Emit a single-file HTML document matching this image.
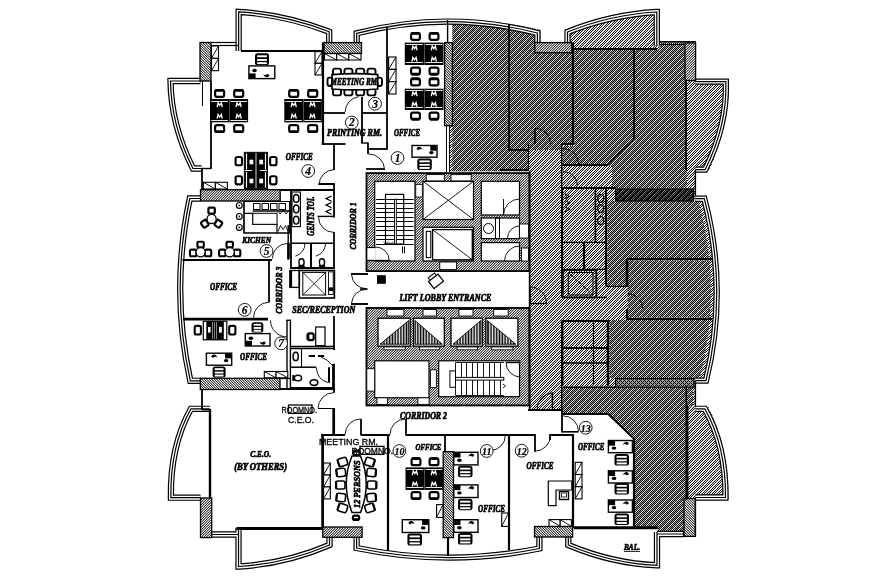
<!DOCTYPE html>
<html><head><meta charset="utf-8"><title>Floor plan</title>
<style>html,body{margin:0;padding:0;background:#fff}svg{display:block;filter:grayscale(1)}</style></head>
<body><svg width="891" height="582" viewBox="0 0 891 582" shape-rendering="auto">
<defs>
<pattern id="hA" width="6" height="6" patternUnits="userSpaceOnUse" shape-rendering="crispEdges"><rect width="6" height="6" fill="#fff"/><rect x="0" y="0" width="1" height="1" fill="#0c0c0c"/><rect x="1" y="0" width="1" height="1" fill="#fafafa"/><rect x="2" y="0" width="1" height="1" fill="#0c0c0c"/><rect x="3" y="0" width="1" height="1" fill="#a0a0a0"/><rect x="4" y="0" width="1" height="1" fill="#0c0c0c"/><rect x="5" y="0" width="1" height="1" fill="#919191"/><rect x="0" y="1" width="1" height="1" fill="#fafafa"/><rect x="1" y="1" width="1" height="1" fill="#0c0c0c"/><rect x="2" y="1" width="1" height="1" fill="#a0a0a0"/><rect x="3" y="1" width="1" height="1" fill="#0c0c0c"/><rect x="4" y="1" width="1" height="1" fill="#919191"/><rect x="5" y="1" width="1" height="1" fill="#0c0c0c"/><rect x="0" y="2" width="1" height="1" fill="#0c0c0c"/><rect x="1" y="2" width="1" height="1" fill="#a0a0a0"/><rect x="2" y="2" width="1" height="1" fill="#0c0c0c"/><rect x="3" y="2" width="1" height="1" fill="#919191"/><rect x="4" y="2" width="1" height="1" fill="#0c0c0c"/><rect x="5" y="2" width="1" height="1" fill="#fafafa"/><rect x="0" y="3" width="1" height="1" fill="#a0a0a0"/><rect x="1" y="3" width="1" height="1" fill="#0c0c0c"/><rect x="2" y="3" width="1" height="1" fill="#919191"/><rect x="3" y="3" width="1" height="1" fill="#0c0c0c"/><rect x="4" y="3" width="1" height="1" fill="#fafafa"/><rect x="5" y="3" width="1" height="1" fill="#0c0c0c"/><rect x="0" y="4" width="1" height="1" fill="#0c0c0c"/><rect x="1" y="4" width="1" height="1" fill="#919191"/><rect x="2" y="4" width="1" height="1" fill="#0c0c0c"/><rect x="3" y="4" width="1" height="1" fill="#fafafa"/><rect x="4" y="4" width="1" height="1" fill="#0c0c0c"/><rect x="5" y="4" width="1" height="1" fill="#a0a0a0"/><rect x="0" y="5" width="1" height="1" fill="#919191"/><rect x="1" y="5" width="1" height="1" fill="#0c0c0c"/><rect x="2" y="5" width="1" height="1" fill="#fafafa"/><rect x="3" y="5" width="1" height="1" fill="#0c0c0c"/><rect x="4" y="5" width="1" height="1" fill="#a0a0a0"/><rect x="5" y="5" width="1" height="1" fill="#0c0c0c"/></pattern>
<pattern id="hC" width="5" height="5" patternUnits="userSpaceOnUse" shape-rendering="crispEdges"><rect width="5" height="5" fill="#fff"/><rect x="0" y="0" width="1" height="1" fill="#0e0e0e"/><rect x="1" y="0" width="1" height="1" fill="#ececec"/><rect x="2" y="0" width="1" height="1" fill="#0e0e0e"/><rect x="3" y="0" width="1" height="1" fill="#ececec"/><rect x="4" y="0" width="1" height="1" fill="#ececec"/><rect x="0" y="1" width="1" height="1" fill="#ececec"/><rect x="1" y="1" width="1" height="1" fill="#0e0e0e"/><rect x="2" y="1" width="1" height="1" fill="#ececec"/><rect x="3" y="1" width="1" height="1" fill="#ececec"/><rect x="4" y="1" width="1" height="1" fill="#0e0e0e"/><rect x="0" y="2" width="1" height="1" fill="#0e0e0e"/><rect x="1" y="2" width="1" height="1" fill="#ececec"/><rect x="2" y="2" width="1" height="1" fill="#ececec"/><rect x="3" y="2" width="1" height="1" fill="#0e0e0e"/><rect x="4" y="2" width="1" height="1" fill="#ececec"/><rect x="0" y="3" width="1" height="1" fill="#ececec"/><rect x="1" y="3" width="1" height="1" fill="#ececec"/><rect x="2" y="3" width="1" height="1" fill="#0e0e0e"/><rect x="3" y="3" width="1" height="1" fill="#ececec"/><rect x="4" y="3" width="1" height="1" fill="#0e0e0e"/><rect x="0" y="4" width="1" height="1" fill="#ececec"/><rect x="1" y="4" width="1" height="1" fill="#0e0e0e"/><rect x="2" y="4" width="1" height="1" fill="#ececec"/><rect x="3" y="4" width="1" height="1" fill="#0e0e0e"/><rect x="4" y="4" width="1" height="1" fill="#ececec"/></pattern>
<pattern id="wf" width="5" height="5" patternUnits="userSpaceOnUse" shape-rendering="crispEdges"><rect width="5" height="5" fill="#fff"/><rect x="0" y="0" width="1" height="1" fill="#232323"/><rect x="1" y="0" width="1" height="1" fill="#ebebeb"/><rect x="2" y="0" width="1" height="1" fill="#696969"/><rect x="3" y="0" width="1" height="1" fill="#7d7d7d"/><rect x="4" y="0" width="1" height="1" fill="#ebebeb"/><rect x="0" y="1" width="1" height="1" fill="#ebebeb"/><rect x="1" y="1" width="1" height="1" fill="#696969"/><rect x="2" y="1" width="1" height="1" fill="#7d7d7d"/><rect x="3" y="1" width="1" height="1" fill="#ebebeb"/><rect x="4" y="1" width="1" height="1" fill="#232323"/><rect x="0" y="2" width="1" height="1" fill="#696969"/><rect x="1" y="2" width="1" height="1" fill="#7d7d7d"/><rect x="2" y="2" width="1" height="1" fill="#ebebeb"/><rect x="3" y="2" width="1" height="1" fill="#232323"/><rect x="4" y="2" width="1" height="1" fill="#ebebeb"/><rect x="0" y="3" width="1" height="1" fill="#7d7d7d"/><rect x="1" y="3" width="1" height="1" fill="#ebebeb"/><rect x="2" y="3" width="1" height="1" fill="#232323"/><rect x="3" y="3" width="1" height="1" fill="#ebebeb"/><rect x="4" y="3" width="1" height="1" fill="#696969"/><rect x="0" y="4" width="1" height="1" fill="#ebebeb"/><rect x="1" y="4" width="1" height="1" fill="#232323"/><rect x="2" y="4" width="1" height="1" fill="#ebebeb"/><rect x="3" y="4" width="1" height="1" fill="#696969"/><rect x="4" y="4" width="1" height="1" fill="#7d7d7d"/></pattern>
<pattern id="wb" width="5" height="5" patternUnits="userSpaceOnUse" shape-rendering="crispEdges"><rect width="5" height="5" fill="#fff"/><rect x="0" y="0" width="1" height="1" fill="#232323"/><rect x="1" y="0" width="1" height="1" fill="#ebebeb"/><rect x="2" y="0" width="1" height="1" fill="#696969"/><rect x="3" y="0" width="1" height="1" fill="#7d7d7d"/><rect x="4" y="0" width="1" height="1" fill="#ebebeb"/><rect x="0" y="1" width="1" height="1" fill="#ebebeb"/><rect x="1" y="1" width="1" height="1" fill="#232323"/><rect x="2" y="1" width="1" height="1" fill="#ebebeb"/><rect x="3" y="1" width="1" height="1" fill="#696969"/><rect x="4" y="1" width="1" height="1" fill="#7d7d7d"/><rect x="0" y="2" width="1" height="1" fill="#7d7d7d"/><rect x="1" y="2" width="1" height="1" fill="#ebebeb"/><rect x="2" y="2" width="1" height="1" fill="#232323"/><rect x="3" y="2" width="1" height="1" fill="#ebebeb"/><rect x="4" y="2" width="1" height="1" fill="#696969"/><rect x="0" y="3" width="1" height="1" fill="#696969"/><rect x="1" y="3" width="1" height="1" fill="#7d7d7d"/><rect x="2" y="3" width="1" height="1" fill="#ebebeb"/><rect x="3" y="3" width="1" height="1" fill="#232323"/><rect x="4" y="3" width="1" height="1" fill="#ebebeb"/><rect x="0" y="4" width="1" height="1" fill="#ebebeb"/><rect x="1" y="4" width="1" height="1" fill="#696969"/><rect x="2" y="4" width="1" height="1" fill="#7d7d7d"/><rect x="3" y="4" width="1" height="1" fill="#ebebeb"/><rect x="4" y="4" width="1" height="1" fill="#232323"/></pattern>
<pattern id="dk" width="6" height="6" patternUnits="userSpaceOnUse" shape-rendering="crispEdges"><rect width="6" height="6" fill="#fff"/><rect x="0" y="0" width="1" height="1" fill="#050505"/><rect x="1" y="0" width="1" height="1" fill="#050505"/><rect x="2" y="0" width="1" height="1" fill="#787878"/><rect x="3" y="0" width="1" height="1" fill="#050505"/><rect x="4" y="0" width="1" height="1" fill="#4b4b4b"/><rect x="5" y="0" width="1" height="1" fill="#050505"/><rect x="0" y="1" width="1" height="1" fill="#050505"/><rect x="1" y="1" width="1" height="1" fill="#787878"/><rect x="2" y="1" width="1" height="1" fill="#050505"/><rect x="3" y="1" width="1" height="1" fill="#4b4b4b"/><rect x="4" y="1" width="1" height="1" fill="#050505"/><rect x="5" y="1" width="1" height="1" fill="#050505"/><rect x="0" y="2" width="1" height="1" fill="#787878"/><rect x="1" y="2" width="1" height="1" fill="#050505"/><rect x="2" y="2" width="1" height="1" fill="#4b4b4b"/><rect x="3" y="2" width="1" height="1" fill="#050505"/><rect x="4" y="2" width="1" height="1" fill="#050505"/><rect x="5" y="2" width="1" height="1" fill="#050505"/><rect x="0" y="3" width="1" height="1" fill="#050505"/><rect x="1" y="3" width="1" height="1" fill="#4b4b4b"/><rect x="2" y="3" width="1" height="1" fill="#050505"/><rect x="3" y="3" width="1" height="1" fill="#050505"/><rect x="4" y="3" width="1" height="1" fill="#050505"/><rect x="5" y="3" width="1" height="1" fill="#787878"/><rect x="0" y="4" width="1" height="1" fill="#4b4b4b"/><rect x="1" y="4" width="1" height="1" fill="#050505"/><rect x="2" y="4" width="1" height="1" fill="#050505"/><rect x="3" y="4" width="1" height="1" fill="#050505"/><rect x="4" y="4" width="1" height="1" fill="#787878"/><rect x="5" y="4" width="1" height="1" fill="#050505"/><rect x="0" y="5" width="1" height="1" fill="#050505"/><rect x="1" y="5" width="1" height="1" fill="#050505"/><rect x="2" y="5" width="1" height="1" fill="#050505"/><rect x="3" y="5" width="1" height="1" fill="#787878"/><rect x="4" y="5" width="1" height="1" fill="#050505"/><rect x="5" y="5" width="1" height="1" fill="#4b4b4b"/></pattern>
<pattern id="vl" width="1.55" height="4" patternUnits="userSpaceOnUse"><rect width="0.85" height="4" fill="#000"/></pattern>
<pattern id="xk" width="4" height="4" patternUnits="userSpaceOnUse" shape-rendering="crispEdges"><rect width="4" height="4" fill="#969696"/><rect x="0" y="0" width="1" height="1" fill="#0a0a0a"/><rect x="1" y="1" width="1" height="1" fill="#0a0a0a"/><rect x="3" y="1" width="1" height="1" fill="#0a0a0a"/><rect x="2" y="2" width="1" height="1" fill="#0a0a0a"/><rect x="1" y="3" width="1" height="1" fill="#0a0a0a"/><rect x="3" y="3" width="1" height="1" fill="#0a0a0a"/></pattern>
</defs>
<rect width="891" height="582" fill="#fff"/>
<path d="M452.4,19 Q497,20 540.4,30 V42.6 H565 V30.3 Q611,12 657,9.4 H659.4 V42.6 H696 V79 H729 Q730,125 708,172 H695.4 V196 H706.4 Q730,289 708,383 H695.4 V406.5 H708 Q726,455 729,499 H695.4 V536.4 H684 V532 H658 V527.5 H633.5 V438.3 L607.7,413.6 H561.7 V409.7 H529.6 V171.2 H449.8 V125.7 H452.4 Z" fill="url(#hC)" stroke="none"/>
<clipPath id="rc"><path d="M0,0 H697.5 V198 Q723.5,289 699,381 V582 H0 Z"/></clipPath><g clip-path="url(#rc)">
<path d="M452.4,20 Q482,20.5 509,24 V150.4 H528 V171.2 H452.4 Z" fill="url(#hA)" stroke="none"/>
<path d="M509,24 Q526,26.5 540.4,30 V42.6 H534.8 V52.7 H572.3 V143.7 H561.7 V150 H509 Z" fill="url(#hA)" stroke="none"/>
<path d="M574.5,49.4 H634.2 V139.2 L607.7,165 H562.8 V146 H574.5 Z" fill="url(#hA)" stroke="none"/>
<path d="M634.2,49.4 H657 V42.6 H687 V188.6 H612 V166 H608.5 L635,140 Z" fill="url(#hA)" stroke="none"/>
<path d="M607.5,201 H730 V259 H626 V287 H607.5 Z" fill="url(#hA)" stroke="none"/>
<path d="M627.7,260.4 H730 V317.6 H627.7 Z" fill="url(#hA)" stroke="none"/>
<path d="M609.8,320 H730 V378 H609.8 Z" fill="url(#hA)" stroke="none"/>
<path d="M561.7,413.6 H607.7 L633.5,438.3 V527.5 H658 V532 H684 V498 H686.3 V409 H693 V387.5 H561.7 Z" fill="url(#hA)" stroke="none"/>
</g>
<path d="M565,42.6 V30.3 Q611,12 657,9.4 H659.4 V49.4 H572 V42.6 Z" fill="#fff" stroke="none"/>
<path d="M565,42.6 V30.3 Q611,12 657,9.4 H659.4 V49.4 H572 V42.6 Z" fill="url(#hC)" stroke="none"/>
<path d="M687,79 H729 Q730,125 708,172 H687 Z" fill="#fff" stroke="none"/>
<path d="M687,79 H729 Q730,125 708,172 H687 Z" fill="url(#hC)" stroke="none"/>
<path d="M687.6,406.5 H708 Q729,446 728.5,499 H687.6 Z" fill="#fff" stroke="none"/>
<path d="M687.6,406.5 H708 Q729,446 728.5,499 H687.6 Z" fill="url(#hC)" stroke="none"/>
<path d="M238.65,51 V11.9 Q285,14.5 329.2,31.8 V42.5" fill="none" stroke="#000" stroke-width="6.3" />
<path d="M238.65,51 V11.9 Q285,14.5 329.2,31.8 V42.5" fill="none" stroke="#fff" stroke-width="3.9" />
<path d="M238.65,51 V11.9 Q285,14.5 329.2,31.8 V42.5" fill="none" stroke="#000" stroke-width="1.2" />
<line x1="211" y1="42.5" x2="236" y2="42.5" stroke="#000" stroke-width="1.2"/>
<line x1="211" y1="45.5" x2="238" y2="45.5" stroke="#000" stroke-width="1.2"/>
<path d="M200.5,81 H170.5 Q171,125 193,168.5 H201.5" fill="none" stroke="#000" stroke-width="6.3" />
<path d="M200.5,81 H170.5 Q171,125 193,168.5 H201.5" fill="none" stroke="#fff" stroke-width="3.9" />
<path d="M200.5,81 H170.5 Q171,125 193,168.5 H201.5" fill="none" stroke="#000" stroke-width="1.2" />
<path d="M200.5,198.5 H189.8 Q170.3,290 190.3,380.8 H200.5" fill="none" stroke="#000" stroke-width="6.3" />
<path d="M200.5,198.5 H189.8 Q170.3,290 190.3,380.8 H200.5" fill="none" stroke="#fff" stroke-width="3.9" />
<path d="M200.5,198.5 H189.8 Q170.3,290 190.3,380.8 H200.5" fill="none" stroke="#000" stroke-width="1.2" />
<path d="M210,408.8 H191 Q170,446 170.9,497.7 H200.5" fill="none" stroke="#000" stroke-width="6.3" />
<path d="M210,408.8 H191 Q170,446 170.9,497.7 H200.5" fill="none" stroke="#fff" stroke-width="3.9" />
<path d="M210,408.8 H191 Q170,446 170.9,497.7 H200.5" fill="none" stroke="#000" stroke-width="1.2" />
<path d="M211.5,534.5 H238.5 M238.5,528 V566.5 Q285,564 329.5,545 V537.5" fill="none" stroke="#000" stroke-width="6.3" />
<path d="M211.5,534.5 H238.5 M238.5,528 V566.5 Q285,564 329.5,545 V537.5" fill="none" stroke="#fff" stroke-width="3.9" />
<path d="M211.5,534.5 H238.5 M238.5,528 V566.5 Q285,564 329.5,545 V537.5" fill="none" stroke="#000" stroke-width="1.2" />
<path d="M356.7,42.5 V33.3 Q447,10 537.4,33 V42.6" fill="none" stroke="#000" stroke-width="6.3" />
<path d="M356.7,42.5 V33.3 Q447,10 537.4,33 V42.6" fill="none" stroke="#fff" stroke-width="3.9" />
<path d="M356.7,42.5 V33.3 Q447,10 537.4,33 V42.6" fill="none" stroke="#000" stroke-width="1.2" />
<path d="M356.6,537 V548 Q448,567 539.4,548.5 V537" fill="none" stroke="#000" stroke-width="6.3" />
<path d="M356.6,537 V548 Q448,567 539.4,548.5 V537" fill="none" stroke="#fff" stroke-width="3.9" />
<path d="M356.6,537 V548 Q448,567 539.4,548.5 V537" fill="none" stroke="#000" stroke-width="1.2" />
<path d="M567.5,42.6 V32 Q611,14.5 656.8,12 V45.5" fill="none" stroke="#000" stroke-width="6.3" />
<path d="M567.5,42.6 V32 Q611,14.5 656.8,12 V45.5" fill="none" stroke="#fff" stroke-width="3.9" />
<path d="M567.5,42.6 V32 Q611,14.5 656.8,12 V45.5" fill="none" stroke="#000" stroke-width="1.2" />
<line x1="659.5" y1="41.8" x2="696" y2="41.8" stroke="#000" stroke-width="1.5"/>
<line x1="659.5" y1="44.5" x2="685" y2="44.5" stroke="#000" stroke-width="1.0"/>
<path d="M695.4,81.6 H725.8 Q727.5,125 705.2,169.6 H695.4" fill="none" stroke="#000" stroke-width="6.3" />
<path d="M695.4,81.6 H725.8 Q727.5,125 705.2,169.6 H695.4" fill="none" stroke="#fff" stroke-width="3.9" />
<path d="M695.4,81.6 H725.8 Q727.5,125 705.2,169.6 H695.4" fill="none" stroke="#000" stroke-width="1.2" />
<path d="M695.4,198.7 H704.3 Q728.3,289 706,380.6 H695.4" fill="none" stroke="#000" stroke-width="6.3" />
<path d="M695.4,198.7 H704.3 Q728.3,289 706,380.6 H695.4" fill="none" stroke="#fff" stroke-width="3.9" />
<path d="M695.4,198.7 H704.3 Q728.3,289 706,380.6 H695.4" fill="none" stroke="#000" stroke-width="1.2" />
<path d="M695.4,408.8 H704.8 Q726,446 725.5,497.5 H695.4" fill="none" stroke="#000" stroke-width="6.3" />
<path d="M695.4,408.8 H704.8 Q726,446 725.5,497.5 H695.4" fill="none" stroke="#fff" stroke-width="3.9" />
<path d="M695.4,408.8 H704.8 Q726,446 725.5,497.5 H695.4" fill="none" stroke="#000" stroke-width="1.2" />
<path d="M568.3,536.4 V545 Q612,563.5 657,565.3 V532 M657,534 H684" fill="none" stroke="#000" stroke-width="6.3" />
<path d="M568.3,536.4 V545 Q612,563.5 657,565.3 V532 M657,534 H684" fill="none" stroke="#fff" stroke-width="3.9" />
<path d="M568.3,536.4 V545 Q612,563.5 657,565.3 V532 M657,534 H684" fill="none" stroke="#000" stroke-width="1.2" />
<line x1="241" y1="51" x2="322.8" y2="51" stroke="#000" stroke-width="1.9"/>
<line x1="572" y1="49" x2="657" y2="49" stroke="#000" stroke-width="2.2"/>
<line x1="236.4" y1="528.4" x2="322.8" y2="528.4" stroke="#000" stroke-width="3.0"/>
<line x1="573.7" y1="527.8" x2="657.8" y2="527.8" stroke="#000" stroke-width="3.0"/>
<rect x="200" y="42.5" width="11" height="38.5" fill="#fff" stroke="#000" stroke-width="0"/>
<rect x="200" y="42.5" width="11" height="38.5" fill="url(#wb)" stroke="#000" stroke-width="1.3"/>
<rect x="324" y="42.6" width="37.5" height="10.8" fill="#fff" stroke="#000" stroke-width="0"/>
<rect x="324" y="42.6" width="37.5" height="10.8" fill="url(#wb)" stroke="#000" stroke-width="1.3"/>
<rect x="444.6" y="42.6" width="7.8" height="83.1" fill="#fff" stroke="#000" stroke-width="0"/>
<rect x="444.6" y="42.6" width="7.8" height="83.1" fill="url(#wb)" stroke="#000" stroke-width="1.3"/>
<rect x="534.8" y="42.6" width="37.0" height="10.1" fill="#fff" stroke="#000" stroke-width="0"/>
<rect x="534.8" y="42.6" width="37.0" height="10.1" fill="url(#wf)" stroke="#000" stroke-width="1.3"/>
<rect x="685" y="43" width="10.6" height="37.5" fill="#fff" stroke="#000" stroke-width="0"/>
<rect x="685" y="43" width="10.6" height="37.5" fill="url(#wf)" stroke="#000" stroke-width="1.3"/>
<rect x="200.5" y="189.7" width="79.7" height="11.3" fill="#fff" stroke="#000" stroke-width="0"/>
<rect x="200.5" y="189.7" width="79.7" height="11.3" fill="url(#wf)" stroke="#000" stroke-width="1.3"/>
<rect x="200.3" y="378.3" width="79.7" height="11.2" fill="#fff" stroke="#000" stroke-width="0"/>
<rect x="200.3" y="378.3" width="79.7" height="11.2" fill="url(#wb)" stroke="#000" stroke-width="1.3"/>
<rect x="200.5" y="498" width="11.2" height="39.6" fill="#fff" stroke="#000" stroke-width="0"/>
<rect x="200.5" y="498" width="11.2" height="39.6" fill="url(#wf)" stroke="#000" stroke-width="1.3"/>
<rect x="322.8" y="527" width="39.3" height="10.3" fill="#fff" stroke="#000" stroke-width="0"/>
<rect x="322.8" y="527" width="39.3" height="10.3" fill="url(#wf)" stroke="#000" stroke-width="1.3"/>
<rect x="443.2" y="451.7" width="10.3" height="85.9" fill="#fff" stroke="#000" stroke-width="0"/>
<rect x="443.2" y="451.7" width="10.3" height="85.9" fill="url(#wb)" stroke="#000" stroke-width="1.3"/>
<rect x="534.5" y="526.5" width="38.1" height="10.5" fill="#fff" stroke="#000" stroke-width="0"/>
<rect x="534.5" y="526.5" width="38.1" height="10.5" fill="url(#wb)" stroke="#000" stroke-width="1.3"/>
<rect x="684" y="498.5" width="11.4" height="37.9" fill="#fff" stroke="#000" stroke-width="0"/>
<rect x="684" y="498.5" width="11.4" height="37.9" fill="url(#wb)" stroke="#000" stroke-width="1.3"/>
<rect x="615.6" y="189" width="77.9" height="12" fill="#fff" stroke="#000" stroke-width="0"/>
<rect x="615.6" y="189" width="77.9" height="12" fill="url(#dk)" stroke="#000" stroke-width="1.2"/>
<rect x="615.6" y="378.5" width="78.4" height="8.7" fill="#fff" stroke="#000" stroke-width="0"/>
<rect x="615.6" y="378.5" width="78.4" height="8.7" fill="url(#xk)" stroke="#000" stroke-width="1.2"/>
<line x1="509" y1="24" x2="509" y2="150.4" stroke="#000" stroke-width="1.8"/>
<line x1="509" y1="150" x2="528" y2="150" stroke="#000" stroke-width="1.8"/>
<line x1="573" y1="42.6" x2="573" y2="144.5" stroke="#000" stroke-width="2.2"/>
<line x1="561.7" y1="144" x2="574" y2="144" stroke="#000" stroke-width="1.8"/>
<line x1="634" y1="49.4" x2="634" y2="139.2" stroke="#000" stroke-width="1.8"/>
<line x1="634.2" y1="139.2" x2="607.7" y2="165" stroke="#000" stroke-width="1.8"/>
<line x1="562.8" y1="165" x2="607.7" y2="165" stroke="#000" stroke-width="2.2"/>
<line x1="686" y1="80" x2="686" y2="170" stroke="#000" stroke-width="1.8"/>
<line x1="561.7" y1="188" x2="615.6" y2="188" stroke="#000" stroke-width="2.2"/>
<line x1="500" y1="170" x2="528" y2="170" stroke="#000" stroke-width="1.8"/>
<line x1="528.5" y1="144" x2="528.5" y2="171" stroke="#000" stroke-width="1.2"/>
<line x1="561.7" y1="144" x2="561.7" y2="297.4" stroke="#000" stroke-width="1.4"/>
<line x1="561.7" y1="321" x2="561.7" y2="409.7" stroke="#000" stroke-width="1.4"/>
<line x1="529.6" y1="171" x2="529.6" y2="409.7" stroke="#000" stroke-width="1.6"/>
<path d="M535.0,128.2 A15.5,15.5 0 0 1 550.5,143.7" fill="none" stroke="#000" stroke-width="0.9" />
<line x1="535" y1="128" x2="535" y2="144" stroke="#000" stroke-width="1.6"/>
<path d="M563.0,148.5 A15.5,15.5 0 0 1 578.5,164.0" fill="none" stroke="#000" stroke-width="0.9" />
<path d="M563.0,171.5 A14.5,14.5 0 0 1 577.5,186.0" fill="none" stroke="#000" stroke-width="0.9" />
<line x1="562.5" y1="188" x2="562.5" y2="297.4" stroke="#000" stroke-width="1.2"/>
<line x1="595.4" y1="188" x2="595.4" y2="243" stroke="#000" stroke-width="1.6"/>
<line x1="606" y1="188" x2="606" y2="286.2" stroke="#000" stroke-width="2.0"/>
<line x1="563" y1="242.4" x2="606" y2="242.4" stroke="#000" stroke-width="1.4"/>
<line x1="563" y1="269.4" x2="606" y2="269.4" stroke="#000" stroke-width="1.4"/>
<line x1="584" y1="242.4" x2="584" y2="269.4" stroke="#000" stroke-width="2.2"/>
<rect x="562.8" y="270" width="33.5" height="27.4" fill="none" stroke="#000" stroke-width="1.8"/>
<rect x="568.3" y="272.5" width="24.7" height="22.5" fill="none" stroke="#000" stroke-width="1.0"/>
<line x1="568.3" y1="272.5" x2="593" y2="295" stroke="#000" stroke-width="0.8"/>
<ellipse cx="600.7" cy="198.4" rx="3" ry="4" fill="none" stroke="#000" stroke-width="1.4"/>
<ellipse cx="600.7" cy="208.6" rx="3" ry="4" fill="none" stroke="#000" stroke-width="1.4"/>
<ellipse cx="600.7" cy="220.4" rx="3" ry="4" fill="none" stroke="#000" stroke-width="1.4"/>
<path d="M565,194 l4.5,2.4 l-4.5,2.4" fill="none" stroke="#000" stroke-width="1.1" />
<path d="M565,200.5 l4.5,2.4 l-4.5,2.4" fill="none" stroke="#000" stroke-width="1.1" />
<path d="M565,207 l4.5,2.4 l-4.5,2.4" fill="none" stroke="#000" stroke-width="1.1" />
<line x1="627" y1="259" x2="712" y2="259" stroke="#000" stroke-width="2.0"/>
<line x1="627" y1="319" x2="712" y2="319" stroke="#000" stroke-width="2.0"/>
<line x1="627" y1="259.3" x2="627" y2="287" stroke="#000" stroke-width="2.6"/>
<line x1="627" y1="308.7" x2="627" y2="318.8" stroke="#000" stroke-width="2.0"/>
<path d="M627.7,293.7 A15,15 0 0 1 642.7,308.7" fill="none" stroke="#000" stroke-width="0.9" />
<line x1="596" y1="297.4" x2="607" y2="297.4" stroke="#000" stroke-width="1.4"/>
<line x1="606" y1="286.5" x2="627" y2="286.5" stroke="#000" stroke-width="1.2"/>
<line x1="561.5" y1="321" x2="609.8" y2="321" stroke="#000" stroke-width="2.0"/>
<line x1="608" y1="321" x2="608" y2="385.7" stroke="#000" stroke-width="2.4"/>
<line x1="562.6" y1="321" x2="562.6" y2="385.7" stroke="#000" stroke-width="1.6"/>
<line x1="562.6" y1="348" x2="608" y2="348" stroke="#000" stroke-width="1.8"/>
<line x1="562.6" y1="363" x2="608" y2="363" stroke="#000" stroke-width="1.4"/>
<line x1="593.5" y1="321" x2="593.5" y2="385" stroke="#000" stroke-width="1.2"/>
<line x1="686.3" y1="385.7" x2="686.3" y2="500" stroke="#000" stroke-width="1.6"/>
<line x1="561.7" y1="414" x2="607.7" y2="414" stroke="#000" stroke-width="2.0"/>
<line x1="607.7" y1="413.6" x2="633.5" y2="438.3" stroke="#000" stroke-width="2.0"/>
<line x1="634" y1="438.3" x2="634" y2="527.5" stroke="#000" stroke-width="2.2"/>
<line x1="528" y1="410" x2="561.7" y2="410" stroke="#000" stroke-width="1.9"/>
<line x1="552.4" y1="392.3" x2="552.4" y2="408.5" stroke="#000" stroke-width="1.5"/>
<path d="M537.1,408.5 A15.3,15.3 0 0 1 552.4,393.2" fill="none" stroke="#000" stroke-width="0.9" />
<line x1="562.6" y1="387.3" x2="615" y2="387.3" stroke="#000" stroke-width="1.6"/>
<line x1="695.4" y1="170" x2="695.4" y2="196" stroke="#000" stroke-width="1.4"/>
<line x1="695.4" y1="381" x2="695.4" y2="406.5" stroke="#000" stroke-width="1.4"/>
<line x1="695.4" y1="498" x2="695.4" y2="536.4" stroke="#000" stroke-width="1.4"/>
<line x1="687.6" y1="406" x2="687.6" y2="498" stroke="#000" stroke-width="1.6"/>
<line x1="683.5" y1="532" x2="683.5" y2="536.4" stroke="#000" stroke-width="1.2"/>
<rect x="366.5" y="173.1" width="162.8" height="98.0" fill="#fff" stroke="#000" stroke-width="0"/>
<rect x="366.5" y="173.1" width="162.8" height="98.0" fill="url(#wf)" stroke="#000" stroke-width="1.8"/>
<rect x="374.7" y="181.3" width="40.3" height="79.7" fill="#fff" stroke="#000" stroke-width="1.2"/>
<rect x="423" y="181.3" width="50.5" height="38.2" fill="#fff" stroke="#000" stroke-width="1.2"/>
<rect x="423" y="227.3" width="50.5" height="33.7" fill="#fff" stroke="#000" stroke-width="1.2"/>
<rect x="481.3" y="181.3" width="38.2" height="33.7" fill="#fff" stroke="#000" stroke-width="1.2"/>
<rect x="481.3" y="218" width="38.2" height="20.6" fill="#fff" stroke="#000" stroke-width="1.2"/>
<rect x="481.3" y="242.6" width="38.2" height="18.4" fill="#fff" stroke="#000" stroke-width="1.2"/>
<rect x="426.3" y="174.6" width="18.0" height="6.3" fill="#fff" stroke="#000" stroke-width="0.9"/>
<rect x="451" y="174.6" width="20.2" height="6.3" fill="#fff" stroke="#000" stroke-width="0.9"/>
<rect x="439.8" y="262" width="16.8" height="7.4" fill="#fff" stroke="#000" stroke-width="0.9"/>
<rect x="415.8" y="184.5" width="6.5" height="12.5" fill="#fff" stroke="#000" stroke-width="0.8"/>
<line x1="423" y1="181.3" x2="473.5" y2="219.5" stroke="#000" stroke-width="0.9"/>
<line x1="423" y1="219.5" x2="473.5" y2="181.3" stroke="#000" stroke-width="0.9"/>
<rect x="432.6" y="229.6" width="39.7" height="30.2" fill="none" stroke="#000" stroke-width="1.3"/>
<line x1="432.6" y1="229.6" x2="472.3" y2="259.8" stroke="#000" stroke-width="0.9"/>
<rect x="426.3" y="231.4" width="4.5" height="26.2" fill="none" stroke="#000" stroke-width="1.1"/>
<line x1="376.2" y1="199.5" x2="413.5" y2="199.5" stroke="#000" stroke-width="1.0"/>
<line x1="376.2" y1="203.5" x2="413.5" y2="203.5" stroke="#000" stroke-width="1.0"/>
<line x1="376.2" y1="208.5" x2="413.5" y2="208.5" stroke="#000" stroke-width="1.0"/>
<line x1="376.2" y1="212.5" x2="413.5" y2="212.5" stroke="#000" stroke-width="1.0"/>
<line x1="376.2" y1="217.5" x2="413.5" y2="217.5" stroke="#000" stroke-width="1.0"/>
<line x1="376.2" y1="221.5" x2="413.5" y2="221.5" stroke="#000" stroke-width="1.0"/>
<line x1="376.2" y1="226.5" x2="413.5" y2="226.5" stroke="#000" stroke-width="1.0"/>
<line x1="376.2" y1="230.5" x2="413.5" y2="230.5" stroke="#000" stroke-width="1.0"/>
<line x1="376.2" y1="235.5" x2="413.5" y2="235.5" stroke="#000" stroke-width="1.0"/>
<line x1="376.2" y1="239.5" x2="413.5" y2="239.5" stroke="#000" stroke-width="1.0"/>
<line x1="376.2" y1="244.5" x2="413.5" y2="244.5" stroke="#000" stroke-width="1.0"/>
<rect x="385.5" y="194.4" width="18.2" height="49.6" fill="none" stroke="#000" stroke-width="1.2"/>
<rect x="394.5" y="199.2" width="1.8" height="44.8" fill="#fff" stroke="#000" stroke-width="0.9"/>
<line x1="402.5" y1="246.4" x2="402.5" y2="253.3" stroke="#000" stroke-width="1.0"/>
<line x1="404.5" y1="246.4" x2="404.5" y2="253.3" stroke="#000" stroke-width="1.0"/>
<path d="M383.5,242 l2.2,2 l2.2,-2 M388.5,242 l2.2,2 l2.2,-2" fill="none" stroke="#000" stroke-width="0.8" />
<rect x="367.5" y="247" width="8.1" height="13.3" fill="#fff" stroke="#000" stroke-width="0.0"/>
<line x1="367" y1="247.5" x2="375.6" y2="247.5" stroke="#000" stroke-width="1.2"/>
<path d="M375.6,247.0 A13.6,13.6 0 0 1 389.2,260.6" fill="none" stroke="#000" stroke-width="0.9" />
<line x1="367" y1="260.5" x2="389.5" y2="260.5" stroke="#000" stroke-width="1.3"/>
<path d="M503.5,215.0 A16,16 0 0 1 519.5,199.0" fill="none" stroke="#000" stroke-width="0.9" />
<line x1="503.5" y1="199" x2="503.5" y2="215" stroke="#000" stroke-width="0.9"/>
<circle cx="488.5" cy="228.5" r="5" fill="#fff" stroke="#000" stroke-width="1.0"/>
<rect x="495.5" y="218" width="4.0" height="20.6" fill="none" stroke="#000" stroke-width="1.0"/>
<path d="M507.5,238.0 A12,12 0 0 1 519.5,226.0" fill="none" stroke="#000" stroke-width="0.9" />
<path d="M504.5,261.0 A15,15 0 0 1 519.5,246.0" fill="none" stroke="#000" stroke-width="0.9" />
<rect x="519.5" y="224" width="9.0" height="14" fill="#fff" stroke="#000" stroke-width="0.9"/>
<rect x="521.5" y="248" width="7.0" height="13" fill="#fff" stroke="#000" stroke-width="0.9"/>
<rect x="377" y="275.2" width="8.8" height="8.6" fill="#000" stroke="#000" stroke-width="0"/>
<rect x="0" y="0" width="12" height="9" transform="translate(428.5,281.5) rotate(-38)" fill="#fff" stroke="#000" stroke-width="1.2"/>
<rect x="2" y="-3" width="8" height="3" transform="translate(428.5,281.5) rotate(-38)" fill="#fff" stroke="#000" stroke-width="1.0"/>
<text x="399.4" y="301" textLength="92.0" lengthAdjust="spacingAndGlyphs" font-family="Liberation Serif, serif" font-weight="bold" font-style="italic" font-size="9.8" stroke="#000" stroke-width="0.7" stroke-linejoin="round">LIFT LOBBY ENTRANCE</text>
<path d="M530.0,287.0 A16.5,16.5 0 0 1 546.5,303.5" fill="none" stroke="#000" stroke-width="0.9" />
<line x1="530" y1="286.5" x2="530" y2="304" stroke="#000" stroke-width="1.4"/>
<line x1="530" y1="303.5" x2="546.5" y2="303.5" stroke="#000" stroke-width="1.3"/>
<path d="M351.5,274.5 Q353,287.5 367,289 M351.5,303.4 Q353,290.5 367,289" fill="none" stroke="#000" stroke-width="0.9" />
<line x1="351" y1="274" x2="368" y2="274" stroke="#000" stroke-width="1.9"/>
<line x1="351" y1="304" x2="368" y2="304" stroke="#000" stroke-width="1.9"/>
<line x1="360" y1="289" x2="367.5" y2="289" stroke="#000" stroke-width="1.6"/>
<rect x="366.5" y="308" width="162.8" height="97.4" fill="#fff" stroke="#000" stroke-width="0"/>
<rect x="366.5" y="308" width="162.8" height="97.4" fill="url(#wf)" stroke="#000" stroke-width="1.9"/>
<rect x="387" y="309.5" width="16.9" height="6.5" fill="#fff" stroke="#000" stroke-width="0.9"/>
<rect x="423" y="309.5" width="13.4" height="6.5" fill="#fff" stroke="#000" stroke-width="0.9"/>
<rect x="458.9" y="309.5" width="14.1" height="6.5" fill="#fff" stroke="#000" stroke-width="0.9"/>
<rect x="493.7" y="309.5" width="14.5" height="6.5" fill="#fff" stroke="#000" stroke-width="0.9"/>
<rect x="378" y="318.2" width="32.2" height="28.0" fill="#fff" stroke="#000" stroke-width="1.3"/>
<path d="M380,344.2 L408.7,320.5 V344.2 Z" fill="url(#vl)" stroke="#000" stroke-width="0.9"/>
<rect x="384" y="347" width="21.2" height="2.8" fill="#fff" stroke="#000" stroke-width="0.8"/>
<rect x="413.5" y="318.2" width="30.8" height="28.0" fill="#fff" stroke="#000" stroke-width="1.3"/>
<path d="M415.0,320.5 V344.2 H442.3 Z" fill="url(#vl)" stroke="#000" stroke-width="0.9"/>
<rect x="419.5" y="347" width="19.8" height="2.8" fill="#fff" stroke="#000" stroke-width="0.8"/>
<rect x="451" y="318.2" width="31.4" height="28.0" fill="#fff" stroke="#000" stroke-width="1.3"/>
<path d="M453,344.2 L480.9,320.5 V344.2 Z" fill="url(#vl)" stroke="#000" stroke-width="0.9"/>
<rect x="457" y="347" width="20.4" height="2.8" fill="#fff" stroke="#000" stroke-width="0.8"/>
<rect x="485.8" y="318.2" width="32.1" height="28.0" fill="#fff" stroke="#000" stroke-width="1.3"/>
<path d="M487.3,320.5 V344.2 H515.9 Z" fill="url(#vl)" stroke="#000" stroke-width="0.9"/>
<rect x="491.8" y="347" width="21.1" height="2.8" fill="#fff" stroke="#000" stroke-width="0.8"/>
<rect x="374.7" y="360.8" width="54.3" height="37.0" fill="#fff" stroke="#000" stroke-width="1.2"/>
<rect x="366.8" y="368.7" width="7.9" height="22.4" fill="#fff" stroke="#000" stroke-width="0.9"/>
<rect x="430.4" y="369.8" width="6.0" height="17.9" fill="#fff" stroke="#000" stroke-width="0.9"/>
<rect x="438.7" y="360.8" width="80.8" height="35.9" fill="#fff" stroke="#000" stroke-width="1.2"/>
<rect x="377" y="397.8" width="10.4" height="6.6" fill="#fff" stroke="#000" stroke-width="0.9"/>
<rect x="417.9" y="397.8" width="11.2" height="6.6" fill="#fff" stroke="#000" stroke-width="0.9"/>
<line x1="455.5" y1="362.5" x2="455.5" y2="395" stroke="#000" stroke-width="0.9"/>
<line x1="461.5" y1="362.5" x2="461.5" y2="395" stroke="#000" stroke-width="0.9"/>
<line x1="466.5" y1="362.5" x2="466.5" y2="395" stroke="#000" stroke-width="0.9"/>
<line x1="472.5" y1="362.5" x2="472.5" y2="395" stroke="#000" stroke-width="0.9"/>
<line x1="477.5" y1="362.5" x2="477.5" y2="395" stroke="#000" stroke-width="0.9"/>
<line x1="483.5" y1="362.5" x2="483.5" y2="395" stroke="#000" stroke-width="0.9"/>
<line x1="489.5" y1="362.5" x2="489.5" y2="395" stroke="#000" stroke-width="0.9"/>
<line x1="494.5" y1="362.5" x2="494.5" y2="395" stroke="#000" stroke-width="0.9"/>
<line x1="500.5" y1="362.5" x2="500.5" y2="395" stroke="#000" stroke-width="0.9"/>
<line x1="455.5" y1="362.5" x2="503.8" y2="362.5" stroke="#000" stroke-width="0.9"/>
<line x1="455.5" y1="395.5" x2="503.8" y2="395.5" stroke="#000" stroke-width="0.9"/>
<rect x="449.9" y="370.9" width="5.6" height="16.4" fill="#fff" stroke="#000" stroke-width="1.0"/>
<rect x="455.5" y="377.4" width="48.3" height="2.7" fill="#fff" stroke="#000" stroke-width="1.0"/>
<path d="M503,384 l2.5,2 l-2.5,2" fill="none" stroke="#000" stroke-width="0.9" />
<path d="M520.5,377.0 A14.5,14.5 0 0 1 506.0,362.5" fill="none" stroke="#000" stroke-width="0.9" />
<line x1="506" y1="362.5" x2="520.5" y2="362.5" stroke="#000" stroke-width="1.4"/>
<line x1="211" y1="81" x2="211" y2="168.5" stroke="#000" stroke-width="1.8"/>
<line x1="201.5" y1="168.5" x2="211.5" y2="168.5" stroke="#000" stroke-width="1.4"/>
<line x1="202" y1="168.5" x2="202" y2="189.7" stroke="#000" stroke-width="1.8"/>
<line x1="202.5" y1="81" x2="202.5" y2="106" stroke="#000" stroke-width="1.0"/>
<rect x="211.5" y="46.0" width="7.0" height="12.35" fill="#fff" stroke="#000" stroke-width="1.1"/>
<line x1="211.5" y1="58.35" x2="218.5" y2="46.0" stroke="#000" stroke-width="0.9"/>
<rect x="211.5" y="58.35" width="7.0" height="12.35" fill="#fff" stroke="#000" stroke-width="1.1"/>
<line x1="211.5" y1="70.7" x2="218.5" y2="58.35" stroke="#000" stroke-width="0.9"/>
<rect x="315" y="51.6" width="7" height="11.7" fill="#fff" stroke="#000" stroke-width="1.1"/>
<line x1="315" y1="63.3" x2="322" y2="51.6" stroke="#000" stroke-width="0.9"/>
<rect x="315" y="63.3" width="7" height="11.7" fill="#fff" stroke="#000" stroke-width="1.1"/>
<line x1="315" y1="75.0" x2="322" y2="63.3" stroke="#000" stroke-width="0.9"/>
<rect x="203.4" y="182.3" width="12.0" height="6.7" fill="#fff" stroke="#000" stroke-width="1.1"/>
<line x1="203.4" y1="182.3" x2="215.4" y2="189" stroke="#000" stroke-width="0.9"/>
<rect x="215.4" y="182.3" width="12.0" height="6.7" fill="#fff" stroke="#000" stroke-width="1.1"/>
<line x1="215.4" y1="182.3" x2="227.4" y2="189" stroke="#000" stroke-width="0.9"/>
<line x1="323" y1="42.5" x2="323" y2="144.5" stroke="#000" stroke-width="2.2"/>
<line x1="280" y1="190" x2="335" y2="190" stroke="#000" stroke-width="1.8"/>
<rect x="324.5" y="53.6" width="12.17" height="6.4" fill="#fff" stroke="#000" stroke-width="1.1"/>
<line x1="324.5" y1="53.6" x2="336.6666666666667" y2="60" stroke="#000" stroke-width="0.9"/>
<rect x="336.6666666666667" y="53.6" width="12.17" height="6.4" fill="#fff" stroke="#000" stroke-width="1.1"/>
<line x1="336.6666666666667" y1="53.6" x2="348.8333333333333" y2="60" stroke="#000" stroke-width="0.9"/>
<rect x="348.8333333333333" y="53.6" width="12.17" height="6.4" fill="#fff" stroke="#000" stroke-width="1.1"/>
<line x1="348.8333333333333" y1="53.6" x2="361.0" y2="60" stroke="#000" stroke-width="0.9"/>
<line x1="322.8" y1="113" x2="345" y2="113" stroke="#000" stroke-width="1.8"/>
<line x1="361.5" y1="113" x2="387" y2="113" stroke="#000" stroke-width="1.8"/>
<line x1="362" y1="97" x2="362" y2="143" stroke="#000" stroke-width="1.8"/>
<path d="M345.2,112.0 A15.3,15.3 0 0 1 358.4,96.8" fill="none" stroke="#000" stroke-width="0.9" />
<line x1="387" y1="27" x2="387" y2="149.5" stroke="#000" stroke-width="1.8"/>
<rect x="388.6" y="57.0" width="7.4" height="12.33" fill="#fff" stroke="#000" stroke-width="1.1"/>
<line x1="388.6" y1="69.33333333333333" x2="396" y2="57.0" stroke="#000" stroke-width="0.9"/>
<rect x="388.6" y="69.33333333333333" width="7.4" height="12.33" fill="#fff" stroke="#000" stroke-width="1.1"/>
<line x1="388.6" y1="81.66666666666667" x2="396" y2="69.33333333333333" stroke="#000" stroke-width="0.9"/>
<rect x="388.6" y="81.66666666666667" width="7.4" height="12.33" fill="#fff" stroke="#000" stroke-width="1.1"/>
<line x1="388.6" y1="94.0" x2="396" y2="81.66666666666667" stroke="#000" stroke-width="0.9"/>
<line x1="321.7" y1="144" x2="345.5" y2="144" stroke="#000" stroke-width="1.8"/>
<line x1="361" y1="143" x2="368.5" y2="143" stroke="#000" stroke-width="1.4"/>
<line x1="368" y1="143" x2="368" y2="154" stroke="#000" stroke-width="1.8"/>
<line x1="368.3" y1="149" x2="387.5" y2="149" stroke="#000" stroke-width="1.8"/>
<line x1="334" y1="144" x2="334" y2="170" stroke="#000" stroke-width="1.8"/>
<path d="M319.0,185.0 A15.3,15.3 0 0 1 334.3,169.7" fill="none" stroke="#000" stroke-width="0.9" />
<line x1="318.5" y1="184" x2="335" y2="184" stroke="#000" stroke-width="2.0"/>
<line x1="334" y1="184" x2="334" y2="190" stroke="#000" stroke-width="1.8"/>
<line x1="447.6" y1="20" x2="447.6" y2="42.6" stroke="#000" stroke-width="1.4"/>
<line x1="446.5" y1="125.7" x2="446.5" y2="172" stroke="#000" stroke-width="1.0"/>
<line x1="449.5" y1="125.7" x2="449.5" y2="172" stroke="#000" stroke-width="1.0"/>
<path d="M368.6,154.0 A16,16 0 0 1 384.6,170.0" fill="none" stroke="#000" stroke-width="0.9" />
<line x1="366" y1="169" x2="384.6" y2="169" stroke="#000" stroke-width="1.8"/>
<line x1="291" y1="190" x2="291" y2="269" stroke="#000" stroke-width="1.8"/>
<line x1="334" y1="190" x2="334" y2="217.5" stroke="#000" stroke-width="1.8"/>
<line x1="334" y1="232" x2="334" y2="269" stroke="#000" stroke-width="1.8"/>
<path d="M333.6,232.3 A15,15 0 0 1 318.6,217.3" fill="none" stroke="#000" stroke-width="0.9" />
<line x1="317.5" y1="216.4" x2="334.5" y2="216.4" stroke="#000" stroke-width="1.4"/>
<rect x="292" y="192" width="8.4" height="34.6" fill="#fff" stroke="#000" stroke-width="1.1"/>
<ellipse cx="296.2" cy="198.4" rx="2.7" ry="3.9" fill="#fff" stroke="#000" stroke-width="1.5"/>
<ellipse cx="296.2" cy="209" rx="2.7" ry="3.9" fill="#fff" stroke="#000" stroke-width="1.5"/>
<ellipse cx="296.2" cy="220.2" rx="2.7" ry="3.9" fill="#fff" stroke="#000" stroke-width="1.5"/>
<path d="M331.5,196 l-5.5,2.6 l5.5,2.6" fill="none" stroke="#000" stroke-width="1.2" />
<path d="M331.5,202.5 l-5.5,2.6 l5.5,2.6" fill="none" stroke="#000" stroke-width="1.2" />
<path d="M331.5,209 l-5.5,2.6 l5.5,2.6" fill="none" stroke="#000" stroke-width="1.2" />
<line x1="291" y1="243.2" x2="333" y2="243.2" stroke="#000" stroke-width="1.4"/>
<line x1="311" y1="243" x2="311" y2="268.5" stroke="#000" stroke-width="2.0"/>
<line x1="290" y1="268" x2="335" y2="268" stroke="#000" stroke-width="1.8"/>
<path d="M305.0,243.5 A13,13 0 0 1 295.4,256.1" fill="none" stroke="#000" stroke-width="0.9" />
<path d="M325.5,243.5 A13,13 0 0 1 315.9,256.1" fill="none" stroke="#000" stroke-width="0.9" />
<ellipse cx="301.5" cy="262.3" rx="2.6" ry="3.5" fill="#fff" stroke="#000" stroke-width="1.4"/>
<rect x="298.3" y="265.2" width="6.4" height="2.3" fill="#000" stroke="#000" stroke-width="0"/>
<ellipse cx="322" cy="262.3" rx="2.6" ry="3.5" fill="#fff" stroke="#000" stroke-width="1.4"/>
<rect x="318.8" y="265.2" width="6.4" height="2.3" fill="#000" stroke="#000" stroke-width="0"/>
<rect x="287.2" y="243" width="2.6" height="15.8" fill="#000" stroke="#000" stroke-width="0"/>
<line x1="288.2" y1="225" x2="288.2" y2="260" stroke="#000" stroke-width="1.4"/>
<rect x="289.8" y="270.5" width="9.5" height="16.9" fill="none" stroke="#000" stroke-width="1.3"/>
<line x1="291" y1="270.5" x2="291" y2="287.4" stroke="#000" stroke-width="2.2"/>
<rect x="299.3" y="270.5" width="35.1" height="27.5" fill="none" stroke="#000" stroke-width="1.6"/>
<rect x="302.8" y="272.4" width="22.8" height="22.6" fill="#fff" stroke="#000" stroke-width="1.0"/>
<line x1="302.8" y1="272.4" x2="325.6" y2="295" stroke="#000" stroke-width="0.8"/>
<line x1="302.8" y1="295" x2="325.6" y2="272.4" stroke="#000" stroke-width="0.8"/>
<rect x="328.5" y="271.9" width="4.7" height="22.6" fill="none" stroke="#000" stroke-width="0.9"/>
<rect x="328.8" y="287.4" width="4.2" height="3.6" fill="#000" stroke="#000" stroke-width="0"/>
<path d="M244,201.5 H289.7 V233 H277 V224.3 H252.8 V213.3 H244 Z  M244,213.3 V233 H277" fill="none" stroke="#000" stroke-width="1.2" />
<path d="M244,201.5 V233 H289.7 V201.5" fill="none" stroke="#000" stroke-width="1.2" />
<rect x="252.8" y="213.3" width="24.2" height="11.0" fill="#fff" stroke="#000" stroke-width="1.0"/>
<rect x="253.5" y="203.5" width="6.5" height="6.0" fill="#fff" stroke="#000" stroke-width="1.0"/>
<rect x="262" y="203.5" width="6.5" height="6.0" fill="#fff" stroke="#000" stroke-width="1.0"/>
<rect x="270.5" y="203.5" width="6.5" height="6.0" fill="#fff" stroke="#000" stroke-width="1.0"/>
<rect x="279" y="203.5" width="6.5" height="6.0" fill="#fff" stroke="#000" stroke-width="1.0"/>
<line x1="252.8" y1="211" x2="289.7" y2="211" stroke="#000" stroke-width="1.6"/>
<path d="M277,210 l3,4 l3,-4 M283,210 l3,4 l3,-4" fill="none" stroke="#000" stroke-width="0.9" />
<path d="M278,231.5 l2.5,-6 l2.5,4 l2.5,-4 l2.5,6" fill="none" stroke="#000" stroke-width="0.9" />
<circle cx="239.3" cy="205.4" r="2.9" fill="#fff" stroke="#000" stroke-width="1.2"/><circle cx="239.3" cy="205.4" r="0.9" fill="#000"/>
<circle cx="239.3" cy="216.4" r="2.9" fill="#fff" stroke="#000" stroke-width="1.2"/><circle cx="239.3" cy="216.4" r="0.9" fill="#000"/>
<circle cx="239.3" cy="227.4" r="2.9" fill="#fff" stroke="#000" stroke-width="1.2"/><circle cx="239.3" cy="227.4" r="0.9" fill="#000"/>
<line x1="182.5" y1="260" x2="272" y2="260" stroke="#000" stroke-width="2.0"/>
<line x1="269" y1="259.6" x2="269" y2="302.6" stroke="#000" stroke-width="1.8"/>
<path d="M253.5,317.6 A15.3,15.3 0 0 1 268.8,302.3" fill="none" stroke="#000" stroke-width="0.9" />
<line x1="183" y1="319.1" x2="268" y2="319.1" stroke="#000" stroke-width="2.9"/>
<path d="M272.4,258.5 A15,15 0 0 1 287.4,243.5" fill="none" stroke="#000" stroke-width="0.9" />
<line x1="287" y1="320" x2="287" y2="388" stroke="#000" stroke-width="1.4"/>
<line x1="290.4" y1="320" x2="290.4" y2="388" stroke="#000" stroke-width="1.4"/>
<line x1="286.3" y1="320.3" x2="291.1" y2="320.3" stroke="#000" stroke-width="1.4"/>
<line x1="334" y1="316" x2="334" y2="350" stroke="#000" stroke-width="1.8"/>
<line x1="290.4" y1="346.5" x2="335" y2="346.5" stroke="#000" stroke-width="1.3"/>
<line x1="290.4" y1="348.5" x2="335" y2="348.5" stroke="#000" stroke-width="1.3"/>
<rect x="315.7" y="327" width="9.3" height="18.6" fill="#fff" stroke="#000" stroke-width="1.2"/>
<rect x="307.7" y="333.3" width="6.0" height="6.8" rx="1.8" fill="#fff" stroke="#000" stroke-width="2.2"/>
<rect x="306.6" y="333.4" width="2.8" height="6.6" rx="0.8" fill="#000"/>
<path d="M287.0,336.9 A16.5,16.5 0 0 1 270.5,320.4" fill="none" stroke="#000" stroke-width="0.9" />
<line x1="291" y1="388" x2="334.5" y2="388" stroke="#000" stroke-width="2.0"/>
<line x1="333" y1="364" x2="333" y2="388" stroke="#000" stroke-width="1.8"/>
<line x1="301.5" y1="348.6" x2="301.5" y2="367" stroke="#000" stroke-width="1.1"/>
<line x1="291" y1="367.2" x2="316.4" y2="367.2" stroke="#000" stroke-width="1.5"/>
<ellipse cx="295.7" cy="356.4" rx="2.6" ry="4.2" fill="#fff" stroke="#000" stroke-width="1.5"/>
<ellipse cx="298" cy="378" rx="3.6" ry="2.8" fill="#fff" stroke="#000" stroke-width="1.4"/>
<rect x="292.3" y="375" width="2.0" height="6" fill="#000" stroke="#000" stroke-width="0"/>
<ellipse cx="314" cy="382.6" rx="3.8" ry="2.8" fill="#fff" stroke="#000" stroke-width="1.6"/>
<line x1="308.7" y1="356" x2="315" y2="356" stroke="#000" stroke-width="2.0"/>
<line x1="318" y1="356" x2="324.2" y2="356" stroke="#000" stroke-width="2.0"/>
<path d="M321,357.2 q7,2 11,8" fill="none" stroke="#000" stroke-width="0.9" />
<path d="M316.4,368 q1,12 11.6,14.5" fill="none" stroke="#000" stroke-width="0.9" />
<line x1="329" y1="367.3" x2="329" y2="382.8" stroke="#000" stroke-width="2.0"/>
<rect x="264.3" y="371.5" width="11.75" height="6.3" fill="#fff" stroke="#000" stroke-width="1.1"/>
<line x1="264.3" y1="371.5" x2="276.05" y2="377.8" stroke="#000" stroke-width="0.9"/>
<rect x="276.05" y="371.5" width="11.75" height="6.3" fill="#fff" stroke="#000" stroke-width="1.1"/>
<line x1="276.05" y1="371.5" x2="287.8" y2="377.8" stroke="#000" stroke-width="0.9"/>
<line x1="280" y1="378.5" x2="290" y2="378.5" stroke="#000" stroke-width="1.2"/>
<line x1="280" y1="389" x2="335" y2="389" stroke="#000" stroke-width="1.8"/>
<line x1="202" y1="389.5" x2="202" y2="409.7" stroke="#000" stroke-width="1.8"/>
<line x1="202" y1="409.7" x2="211" y2="409.7" stroke="#000" stroke-width="1.4"/>
<line x1="210" y1="409.7" x2="210" y2="498" stroke="#000" stroke-width="2.4"/>
<line x1="334" y1="363.7" x2="334" y2="392.8" stroke="#000" stroke-width="1.8"/>
<path d="M318.0,408.6 A16,16 0 0 1 334.0,392.6" fill="none" stroke="#000" stroke-width="0.9" />
<line x1="333.7" y1="408.6" x2="333.7" y2="434.5" stroke="#000" stroke-width="2.7"/>
<line x1="318" y1="408.5" x2="335" y2="408.5" stroke="#000" stroke-width="1.0"/>
<line x1="321.3" y1="435" x2="345" y2="435" stroke="#000" stroke-width="2.0"/>
<line x1="360.6" y1="435" x2="389.8" y2="435" stroke="#000" stroke-width="2.0"/>
<line x1="405.5" y1="435" x2="505" y2="435" stroke="#000" stroke-width="2.0"/>
<line x1="361" y1="419" x2="361" y2="435" stroke="#000" stroke-width="1.8"/>
<path d="M345.1,434.5 A15.5,15.5 0 0 1 360.6,419.0" fill="none" stroke="#000" stroke-width="0.9" />
<line x1="406" y1="419" x2="406" y2="435" stroke="#000" stroke-width="1.8"/>
<path d="M390.0,434.5 A15.5,15.5 0 0 1 405.5,419.0" fill="none" stroke="#000" stroke-width="0.9" />
<line x1="322.6" y1="434" x2="322.6" y2="528" stroke="#000" stroke-width="2.7"/>
<line x1="388" y1="434" x2="388" y2="551" stroke="#000" stroke-width="2.2"/>
<line x1="445" y1="434" x2="445" y2="452" stroke="#000" stroke-width="1.8"/>
<line x1="448" y1="537.6" x2="448" y2="556" stroke="#000" stroke-width="2.2"/>
<line x1="509" y1="434" x2="509" y2="550" stroke="#000" stroke-width="2.2"/>
<rect x="323.6" y="463.0" width="6.7" height="11.97" fill="#fff" stroke="#000" stroke-width="1.1"/>
<line x1="323.6" y1="474.96666666666664" x2="330.3" y2="463.0" stroke="#000" stroke-width="0.9"/>
<rect x="323.6" y="474.96666666666664" width="6.7" height="11.97" fill="#fff" stroke="#000" stroke-width="1.1"/>
<line x1="323.6" y1="486.93333333333334" x2="330.3" y2="474.96666666666664" stroke="#000" stroke-width="0.9"/>
<rect x="323.6" y="486.93333333333334" width="6.7" height="11.97" fill="#fff" stroke="#000" stroke-width="1.1"/>
<line x1="323.6" y1="498.9" x2="330.3" y2="486.93333333333334" stroke="#000" stroke-width="0.9"/>
<rect x="436.6" y="504.6" width="6.4" height="12.8" fill="#fff" stroke="#000" stroke-width="1.1"/>
<line x1="436.6" y1="517.4" x2="443" y2="504.6" stroke="#000" stroke-width="0.9"/>
<rect x="501.7" y="513.0" width="6.8" height="13.4" fill="#fff" stroke="#000" stroke-width="1.1"/>
<line x1="501.7" y1="526.4" x2="508.5" y2="513.0" stroke="#000" stroke-width="0.9"/>
<line x1="504.5" y1="435" x2="535" y2="435" stroke="#000" stroke-width="2.0"/>
<line x1="550.5" y1="435" x2="574" y2="435" stroke="#000" stroke-width="2.0"/>
<line x1="535" y1="434" x2="535" y2="451.7" stroke="#000" stroke-width="1.8"/>
<path d="M550.5,435.5 A15.7,15.7 0 0 1 534.8,451.2" fill="none" stroke="#000" stroke-width="0.9" />
<line x1="550" y1="434" x2="550" y2="440" stroke="#000" stroke-width="1.8"/>
<path d="M505.3,435.5 A15,15 0 0 1 490.3,450.5" fill="none" stroke="#000" stroke-width="0.9" />
<line x1="573" y1="434" x2="573" y2="528" stroke="#000" stroke-width="2.2"/>
<line x1="562" y1="409" x2="562" y2="432.6" stroke="#000" stroke-width="1.8"/>
<line x1="562" y1="431.8" x2="578.5" y2="431.8" stroke="#000" stroke-width="1.6"/>
<path d="M562.8,415.8 A15.7,15.7 0 0 1 578.5,431.5" fill="none" stroke="#000" stroke-width="0.9" />
<rect x="575.2" y="462.3" width="6.8" height="12.2" fill="#fff" stroke="#000" stroke-width="1.1"/>
<line x1="575.2" y1="474.5" x2="582" y2="462.3" stroke="#000" stroke-width="0.9"/>
<rect x="575.2" y="474.5" width="6.8" height="12.2" fill="#fff" stroke="#000" stroke-width="1.1"/>
<line x1="575.2" y1="486.7" x2="582" y2="474.5" stroke="#000" stroke-width="0.9"/>
<rect x="575.2" y="486.7" width="6.8" height="12.2" fill="#fff" stroke="#000" stroke-width="1.1"/>
<line x1="575.2" y1="498.9" x2="582" y2="486.7" stroke="#000" stroke-width="0.9"/>
<rect x="549.0" y="519.6" width="11.2" height="6.7" fill="#fff" stroke="#000" stroke-width="1.1"/>
<line x1="549.0" y1="519.6" x2="560.2" y2="526.3" stroke="#000" stroke-width="0.9"/>
<rect x="560.2" y="519.6" width="11.2" height="6.7" fill="#fff" stroke="#000" stroke-width="1.1"/>
<line x1="560.2" y1="519.6" x2="571.4" y2="526.3" stroke="#000" stroke-width="0.9"/>
<path d="M548.3,481 H571.8 V490 H556 V505.6 H548.3 Z" fill="#fff" stroke="#000" stroke-width="1.2" />
<rect x="559.5" y="491.5" width="9.0" height="8.0" fill="#fff" stroke="#000" stroke-width="1.4"/>
<rect x="561.5" y="493" width="5.0" height="4" fill="none" stroke="#000" stroke-width="0.8"/>
<rect x="255" y="53.3" width="14" height="12.0" rx="2.6" fill="#000"/>
<rect x="257.1" y="55.3" width="9.8" height="1.9" fill="#fff"/>
<rect x="257.1" y="59.0" width="9.8" height="1.9" fill="#fff"/>
<rect x="257.1" y="62.2" width="9.8" height="1.9" fill="#fff"/>
<rect x="248.9" y="65.9" width="25.9" height="12.7" fill="#fff" stroke="#000" stroke-width="1.4"/>
<g>
<ellipse cx="254.5" cy="70.5" rx="2.3" ry="1.7" fill="#000"/>
<rect x="249.20000000000002" y="73.39999999999999" width="6.4" height="5.2" fill="#000"/>
<path d="M263.2,74.0 q1.5,1.6 3,0.8 q1.2,-1.8 3.2,0.6 q-1.2,2.6 -3.4,1.8 q-2,-0.2 -2.8,-3.2 z" fill="#000"/>
</g>
<rect x="210.2" y="99" width="37.9" height="23.3" fill="#000" stroke="#000" stroke-width="0"/>
<line x1="211.2" y1="101.5" x2="227.95" y2="101.5" stroke="#fff" stroke-width="0.9"/>
<line x1="230.34999999999997" y1="101.5" x2="247.1" y2="101.5" stroke="#fff" stroke-width="0.9"/>
<line x1="211.2" y1="120.5" x2="227.95" y2="120.5" stroke="#fff" stroke-width="0.9"/>
<line x1="230.34999999999997" y1="120.5" x2="247.1" y2="120.5" stroke="#fff" stroke-width="0.9"/>
<path d="M217.1,107.0 L218.1,102.8 L219.7,105.3 L221.3,102.8 L222.3,107.0" stroke="#fff" stroke-width="1.3" fill="none"/>
<path d="M217.1,118.7 L218.1,114.5 L219.7,117.0 L221.3,114.5 L222.3,118.7" stroke="#fff" stroke-width="1.3" fill="none"/>
<path d="M236.0,107.0 L237.0,102.8 L238.6,105.3 L240.2,102.8 L241.2,107.0" stroke="#fff" stroke-width="1.3" fill="none"/>
<path d="M236.0,118.7 L237.0,114.5 L238.6,117.0 L240.2,114.5 L241.2,118.7" stroke="#fff" stroke-width="1.3" fill="none"/>
<line x1="229.5" y1="99" x2="229.5" y2="122.3" stroke="#888" stroke-width="0.6"/>
<rect x="284.3" y="99" width="37.5" height="23.3" fill="#000" stroke="#000" stroke-width="0"/>
<line x1="285.3" y1="101.5" x2="301.85" y2="101.5" stroke="#fff" stroke-width="0.9"/>
<line x1="304.25" y1="101.5" x2="320.8" y2="101.5" stroke="#fff" stroke-width="0.9"/>
<line x1="285.3" y1="120.5" x2="301.85" y2="120.5" stroke="#fff" stroke-width="0.9"/>
<line x1="304.25" y1="120.5" x2="320.8" y2="120.5" stroke="#fff" stroke-width="0.9"/>
<path d="M291.1,107.0 L292.1,102.8 L293.7,105.3 L295.3,102.8 L296.3,107.0" stroke="#fff" stroke-width="1.3" fill="none"/>
<path d="M291.1,118.7 L292.1,114.5 L293.7,117.0 L295.3,114.5 L296.3,118.7" stroke="#fff" stroke-width="1.3" fill="none"/>
<path d="M309.8,107.0 L310.8,102.8 L312.4,105.3 L314.0,102.8 L315.0,107.0" stroke="#fff" stroke-width="1.3" fill="none"/>
<path d="M309.8,118.7 L310.8,114.5 L312.4,117.0 L314.0,114.5 L315.0,118.7" stroke="#fff" stroke-width="1.3" fill="none"/>
<line x1="303.5" y1="99" x2="303.5" y2="122.3" stroke="#888" stroke-width="0.6"/>
<rect x="215.1" y="90.0" width="9.0" height="6.8" rx="1.8" fill="#fff" stroke="#000" stroke-width="2.2"/>
<rect x="215.2" y="88.9" width="8.8" height="2.8" rx="0.8" fill="#000"/>
<rect x="215.1" y="125.2" width="9.0" height="6.8" rx="1.8" fill="#fff" stroke="#000" stroke-width="2.2"/>
<rect x="215.2" y="130.3" width="8.8" height="2.8" rx="0.8" fill="#000"/>
<rect x="234.2" y="90.0" width="9.0" height="6.8" rx="1.8" fill="#fff" stroke="#000" stroke-width="2.2"/>
<rect x="234.3" y="88.9" width="8.8" height="2.8" rx="0.8" fill="#000"/>
<rect x="234.2" y="125.2" width="9.0" height="6.8" rx="1.8" fill="#fff" stroke="#000" stroke-width="2.2"/>
<rect x="234.3" y="130.3" width="8.8" height="2.8" rx="0.8" fill="#000"/>
<rect x="289.2" y="90.0" width="9.0" height="6.8" rx="1.8" fill="#fff" stroke="#000" stroke-width="2.2"/>
<rect x="289.3" y="88.9" width="8.8" height="2.8" rx="0.8" fill="#000"/>
<rect x="289.2" y="125.2" width="9.0" height="6.8" rx="1.8" fill="#fff" stroke="#000" stroke-width="2.2"/>
<rect x="289.3" y="130.3" width="8.8" height="2.8" rx="0.8" fill="#000"/>
<rect x="308.2" y="90.0" width="9.0" height="6.8" rx="1.8" fill="#fff" stroke="#000" stroke-width="2.2"/>
<rect x="308.3" y="88.9" width="8.8" height="2.8" rx="0.8" fill="#000"/>
<rect x="308.2" y="125.2" width="9.0" height="6.8" rx="1.8" fill="#fff" stroke="#000" stroke-width="2.2"/>
<rect x="308.3" y="130.3" width="8.8" height="2.8" rx="0.8" fill="#000"/>
<rect x="244.3" y="152.3" width="23.2" height="36.5" fill="#000" stroke="#000" stroke-width="0"/>
<line x1="246.5" y1="153.5" x2="246.5" y2="169.5" stroke="#fff" stroke-width="1.2"/>
<line x1="246.5" y1="171.8" x2="246.5" y2="187.6" stroke="#fff" stroke-width="1.2"/>
<line x1="265.5" y1="153.5" x2="265.5" y2="169.5" stroke="#fff" stroke-width="1.2"/>
<line x1="265.5" y1="171.8" x2="265.5" y2="187.6" stroke="#fff" stroke-width="1.2"/>
<line x1="255.5" y1="153" x2="255.5" y2="188.5" stroke="#999" stroke-width="0.7"/>
<line x1="256.5" y1="153" x2="256.5" y2="188.5" stroke="#999" stroke-width="0.7"/>
<line x1="244.3" y1="170.5" x2="252" y2="170.5" stroke="#fff" stroke-width="0.9"/>
<line x1="260" y1="170.5" x2="267.5" y2="170.5" stroke="#fff" stroke-width="0.9"/>
<rect x="249.5" y="159.7" width="3.8" height="4.6" fill="#fff" stroke="#000" stroke-width="0"/>
<rect x="259.3" y="159.7" width="3.8" height="4.6" fill="#fff" stroke="#000" stroke-width="0"/>
<rect x="249.5" y="178.7" width="3.8" height="4.6" fill="#fff" stroke="#000" stroke-width="0"/>
<rect x="259.3" y="178.7" width="3.8" height="4.6" fill="#fff" stroke="#000" stroke-width="0"/>
<rect x="244.3" y="152.3" width="23.2" height="36.5" fill="none" stroke="#000" stroke-width="0.9"/>
<rect x="235.60000000000002" y="157.0" width="6.4" height="8.2" rx="1.8" fill="#fff" stroke="#000" stroke-width="2.1"/>
<rect x="270.1" y="157.0" width="6.4" height="8.2" rx="1.8" fill="#fff" stroke="#000" stroke-width="2.1"/>
<rect x="235.60000000000002" y="176.20000000000002" width="6.4" height="8.2" rx="1.8" fill="#fff" stroke="#000" stroke-width="2.1"/>
<rect x="270.1" y="176.20000000000002" width="6.4" height="8.2" rx="1.8" fill="#fff" stroke="#000" stroke-width="2.1"/>
<rect x="333" y="68.6" width="8" height="7" rx="2.2" fill="#fff" stroke="#000" stroke-width="1.9"/>
<rect x="333" y="88.4" width="8" height="7" rx="2.2" fill="#fff" stroke="#000" stroke-width="1.9"/>
<rect x="344.4" y="68.6" width="8" height="7" rx="2.2" fill="#fff" stroke="#000" stroke-width="1.9"/>
<rect x="344.4" y="88.4" width="8" height="7" rx="2.2" fill="#fff" stroke="#000" stroke-width="1.9"/>
<rect x="356.2" y="68.6" width="8" height="7" rx="2.2" fill="#fff" stroke="#000" stroke-width="1.9"/>
<rect x="356.2" y="88.4" width="8" height="7" rx="2.2" fill="#fff" stroke="#000" stroke-width="1.9"/>
<rect x="367.5" y="68.6" width="8" height="7" rx="2.2" fill="#fff" stroke="#000" stroke-width="1.9"/>
<rect x="367.5" y="88.4" width="8" height="7" rx="2.2" fill="#fff" stroke="#000" stroke-width="1.9"/>
<rect x="327.5" y="77.6" width="6" height="8.4" rx="2.2" fill="#fff" stroke="#000" stroke-width="1.9"/>
<rect x="376" y="77.6" width="6" height="8.4" rx="2.2" fill="#fff" stroke="#000" stroke-width="1.9"/>
<path d="M332,74.6 Q355,72.8 377.7,74.6 V89 Q355,90.8 332,89 Z" fill="#fff" stroke="#000" stroke-width="1.7" />
<rect x="404.8" y="42.6" width="38.7" height="22.4" fill="#000" stroke="#000" stroke-width="0"/>
<line x1="405.8" y1="44.5" x2="422.95" y2="44.5" stroke="#fff" stroke-width="0.9"/>
<line x1="425.34999999999997" y1="44.5" x2="442.5" y2="44.5" stroke="#fff" stroke-width="0.9"/>
<line x1="405.8" y1="62.5" x2="422.95" y2="62.5" stroke="#fff" stroke-width="0.9"/>
<line x1="425.34999999999997" y1="62.5" x2="442.5" y2="62.5" stroke="#fff" stroke-width="0.9"/>
<path d="M411.9,50.4 L412.9,46.2 L414.5,48.7 L416.1,46.2 L417.1,50.4" stroke="#fff" stroke-width="1.3" fill="none"/>
<path d="M411.9,61.6 L412.9,57.4 L414.5,59.9 L416.1,57.4 L417.1,61.6" stroke="#fff" stroke-width="1.3" fill="none"/>
<path d="M431.2,50.4 L432.2,46.2 L433.8,48.7 L435.4,46.2 L436.4,50.4" stroke="#fff" stroke-width="1.3" fill="none"/>
<path d="M431.2,61.6 L432.2,57.4 L433.8,59.9 L435.4,57.4 L436.4,61.6" stroke="#fff" stroke-width="1.3" fill="none"/>
<line x1="424.5" y1="42.6" x2="424.5" y2="65" stroke="#888" stroke-width="0.6"/>
<rect x="404.8" y="88.7" width="38.7" height="21.3" fill="#000" stroke="#000" stroke-width="0"/>
<line x1="405.8" y1="90.5" x2="422.95" y2="90.5" stroke="#fff" stroke-width="0.9"/>
<line x1="425.34999999999997" y1="90.5" x2="442.5" y2="90.5" stroke="#fff" stroke-width="0.9"/>
<line x1="405.8" y1="107.5" x2="422.95" y2="107.5" stroke="#fff" stroke-width="0.9"/>
<line x1="425.34999999999997" y1="107.5" x2="442.5" y2="107.5" stroke="#fff" stroke-width="0.9"/>
<path d="M411.9,96.2 L412.9,92.0 L414.5,94.5 L416.1,92.0 L417.1,96.2" stroke="#fff" stroke-width="1.3" fill="none"/>
<path d="M411.9,106.9 L412.9,102.7 L414.5,105.2 L416.1,102.7 L417.1,106.9" stroke="#fff" stroke-width="1.3" fill="none"/>
<path d="M431.2,96.2 L432.2,92.0 L433.8,94.5 L435.4,92.0 L436.4,96.2" stroke="#fff" stroke-width="1.3" fill="none"/>
<path d="M431.2,106.9 L432.2,102.7 L433.8,105.2 L435.4,102.7 L436.4,106.9" stroke="#fff" stroke-width="1.3" fill="none"/>
<line x1="424.5" y1="88.7" x2="424.5" y2="110" stroke="#888" stroke-width="0.6"/>
<rect x="411.1" y="33.1" width="8.8" height="6.8" rx="1.8" fill="#fff" stroke="#000" stroke-width="2.2"/>
<rect x="411.2" y="32.0" width="8.6" height="2.8" rx="0.8" fill="#000"/>
<rect x="411.1" y="67.6" width="8.8" height="6.8" rx="1.8" fill="#fff" stroke="#000" stroke-width="2.2"/>
<rect x="411.2" y="72.7" width="8.6" height="2.8" rx="0.8" fill="#000"/>
<rect x="411.1" y="78.6" width="8.8" height="6.8" rx="1.8" fill="#fff" stroke="#000" stroke-width="2.2"/>
<rect x="411.2" y="77.5" width="8.6" height="2.8" rx="0.8" fill="#000"/>
<rect x="411.1" y="112.6" width="8.8" height="6.8" rx="1.8" fill="#fff" stroke="#000" stroke-width="2.2"/>
<rect x="411.2" y="117.7" width="8.6" height="2.8" rx="0.8" fill="#000"/>
<rect x="429.6" y="33.1" width="8.8" height="6.8" rx="1.8" fill="#fff" stroke="#000" stroke-width="2.2"/>
<rect x="429.7" y="32.0" width="8.6" height="2.8" rx="0.8" fill="#000"/>
<rect x="429.6" y="67.6" width="8.8" height="6.8" rx="1.8" fill="#fff" stroke="#000" stroke-width="2.2"/>
<rect x="429.7" y="72.7" width="8.6" height="2.8" rx="0.8" fill="#000"/>
<rect x="429.6" y="78.6" width="8.8" height="6.8" rx="1.8" fill="#fff" stroke="#000" stroke-width="2.2"/>
<rect x="429.7" y="77.5" width="8.6" height="2.8" rx="0.8" fill="#000"/>
<rect x="429.6" y="112.6" width="8.8" height="6.8" rx="1.8" fill="#fff" stroke="#000" stroke-width="2.2"/>
<rect x="429.7" y="117.7" width="8.6" height="2.8" rx="0.8" fill="#000"/>
<rect x="412" y="145.5" width="25" height="11.7" fill="#fff" stroke="#000" stroke-width="1.4"/>
<g transform="translate(849,302.7) scale(-1,-1)">
<ellipse cx="417.6" cy="150.1" rx="2.3" ry="1.7" fill="#000"/>
<rect x="412.3" y="152.0" width="6.4" height="5.2" fill="#000"/>
<path d="M426.3,152.6 q1.5,1.6 3,0.8 q1.2,-1.8 3.2,0.6 q-1.2,2.6 -3.4,1.8 q-2,-0.2 -2.8,-3.2 z" fill="#000"/>
</g>
<rect x="417.3" y="158.5" width="14.5" height="11.5" rx="2.6" fill="#000"/>
<rect x="419.4" y="160.4" width="10.3" height="1.9" fill="#fff"/>
<rect x="419.4" y="163.9" width="10.3" height="1.9" fill="#fff"/>
<rect x="419.4" y="167.0" width="10.3" height="1.9" fill="#fff"/>
<rect x="-3.2" y="-3" width="6.4" height="6" rx="1.2" transform="translate(211.6,210.6) rotate(0)" fill="#fff" stroke="#000" stroke-width="2.2"/>
<rect x="-3.2" y="-3" width="6.4" height="6" rx="1.2" transform="translate(218.4,223.7) rotate(125)" fill="#fff" stroke="#000" stroke-width="2.2"/>
<rect x="-3.2" y="-3" width="6.4" height="6" rx="1.2" transform="translate(204.8,223.7) rotate(235)" fill="#fff" stroke="#000" stroke-width="2.2"/>
<circle cx="211.6" cy="218.9" r="4.6" fill="#fff" stroke="#000" stroke-width="1.3"/>
<rect x="197.4" y="241.8" width="6.4" height="5.6" rx="1.2" fill="#fff" stroke="#000" stroke-width="2.1"/>
<rect x="190.0" y="249.6" width="6.4" height="6.6" rx="1.5" fill="#fff" stroke="#000" stroke-width="2.1"/>
<rect x="204.79999999999998" y="249.6" width="6.4" height="6.6" rx="1.5" fill="#fff" stroke="#000" stroke-width="2.1"/>
<circle cx="200.6" cy="252.2" r="4.6" fill="#fff" stroke="#000" stroke-width="1.2"/>
<rect x="226.5" y="241.8" width="6.4" height="5.6" rx="1.2" fill="#fff" stroke="#000" stroke-width="2.1"/>
<rect x="219.1" y="249.6" width="6.4" height="6.6" rx="1.5" fill="#fff" stroke="#000" stroke-width="2.1"/>
<rect x="233.89999999999998" y="249.6" width="6.4" height="6.6" rx="1.5" fill="#fff" stroke="#000" stroke-width="2.1"/>
<circle cx="229.7" cy="252.2" r="4.6" fill="#fff" stroke="#000" stroke-width="1.2"/>
<rect x="203.3" y="321.3" width="23.5" height="18.5" fill="#fff" stroke="#000" stroke-width="1.2"/>
<rect x="206.3" y="321.3" width="17.5" height="18.5" fill="#000" stroke="#000" stroke-width="0"/>
<line x1="212.5" y1="322" x2="212.5" y2="339" stroke="#bbb" stroke-width="0.7"/>
<line x1="214.5" y1="322" x2="214.5" y2="339" stroke="#bbb" stroke-width="0.7"/>
<line x1="216.5" y1="322" x2="216.5" y2="339" stroke="#bbb" stroke-width="0.7"/>
<rect x="208" y="327" width="2.6" height="5.6" fill="#fff" stroke="#000" stroke-width="0"/>
<rect x="219" y="327" width="2.8" height="5.6" fill="#fff" stroke="#000" stroke-width="0"/>
<rect x="194.70000000000002" y="325.9" width="6.2" height="8.6" rx="1.8" fill="#fff" stroke="#000" stroke-width="2.1"/>
<rect x="229.20000000000002" y="325.9" width="6.2" height="8.6" rx="1.8" fill="#fff" stroke="#000" stroke-width="2.1"/>
<rect x="251.5" y="322.3" width="11.8" height="10.2" rx="2.6" fill="#000"/>
<rect x="253.6" y="323.8" width="7.6" height="1.9" fill="#fff"/>
<rect x="253.6" y="327.0" width="7.6" height="1.9" fill="#fff"/>
<rect x="253.6" y="329.8" width="7.6" height="1.9" fill="#fff"/>
<rect x="245.3" y="333.6" width="24.7" height="12.4" fill="#fff" stroke="#000" stroke-width="1.4"/>
<g>
<ellipse cx="250.9" cy="338.20000000000005" rx="2.3" ry="1.7" fill="#000"/>
<rect x="245.60000000000002" y="340.8" width="6.4" height="5.2" fill="#000"/>
<path d="M259.6,341.4 q1.5,1.6 3,0.8 q1.2,-1.8 3.2,0.6 q-1.2,2.6 -3.4,1.8 q-2,-0.2 -2.8,-3.2 z" fill="#000"/>
</g>
<rect x="206.4" y="353.2" width="25.3" height="12.0" fill="#fff" stroke="#000" stroke-width="1.4"/>
<g transform="translate(438.1,718.4) scale(-1,-1)">
<ellipse cx="212.0" cy="357.8" rx="2.3" ry="1.7" fill="#000"/>
<rect x="206.70000000000002" y="360.0" width="6.4" height="5.2" fill="#000"/>
<path d="M220.70000000000002,360.59999999999997 q1.5,1.6 3,0.8 q1.2,-1.8 3.2,0.6 q-1.2,2.6 -3.4,1.8 q-2,-0.2 -2.8,-3.2 z" fill="#000"/>
</g>
<rect x="212.6" y="366.4" width="13.0" height="11.1" rx="2.6" fill="#000"/>
<rect x="214.7" y="368.2" width="8.8" height="1.9" fill="#fff"/>
<rect x="214.7" y="371.6" width="8.8" height="1.9" fill="#fff"/>
<rect x="214.7" y="374.6" width="8.8" height="1.9" fill="#fff"/>
<g transform="translate(342.6,462) rotate(-18)"><rect x="-4.6" y="-4" width="9.2" height="8" rx="2" fill="#fff" stroke="#000" stroke-width="1.6"/><rect x="-5.2" y="-4" width="2" height="8" fill="#000"/></g>
<g transform="translate(369.8,462) rotate(18)"><rect x="-4.6" y="-4" width="9.2" height="8" rx="2" fill="#fff" stroke="#000" stroke-width="1.6"/><rect x="3.2" y="-4" width="2" height="8" fill="#000"/></g>
<g transform="translate(340.9,472.5) rotate(-6)"><rect x="-4.6" y="-4" width="9.2" height="8" rx="2" fill="#fff" stroke="#000" stroke-width="1.6"/><rect x="-5.2" y="-4" width="2" height="8" fill="#000"/></g>
<g transform="translate(371.5,472.5) rotate(6)"><rect x="-4.6" y="-4" width="9.2" height="8" rx="2" fill="#fff" stroke="#000" stroke-width="1.6"/><rect x="3.2" y="-4" width="2" height="8" fill="#000"/></g>
<g transform="translate(340.4,485) rotate(0)"><rect x="-4.6" y="-4" width="9.2" height="8" rx="2" fill="#fff" stroke="#000" stroke-width="1.6"/><rect x="-5.2" y="-4" width="2" height="8" fill="#000"/></g>
<g transform="translate(372.0,485) rotate(0)"><rect x="-4.6" y="-4" width="9.2" height="8" rx="2" fill="#fff" stroke="#000" stroke-width="1.6"/><rect x="3.2" y="-4" width="2" height="8" fill="#000"/></g>
<g transform="translate(340.9,497.5) rotate(6)"><rect x="-4.6" y="-4" width="9.2" height="8" rx="2" fill="#fff" stroke="#000" stroke-width="1.6"/><rect x="-5.2" y="-4" width="2" height="8" fill="#000"/></g>
<g transform="translate(371.5,497.5) rotate(-6)"><rect x="-4.6" y="-4" width="9.2" height="8" rx="2" fill="#fff" stroke="#000" stroke-width="1.6"/><rect x="3.2" y="-4" width="2" height="8" fill="#000"/></g>
<g transform="translate(342.6,508) rotate(18)"><rect x="-4.6" y="-4" width="9.2" height="8" rx="2" fill="#fff" stroke="#000" stroke-width="1.6"/><rect x="-5.2" y="-4" width="2" height="8" fill="#000"/></g>
<g transform="translate(369.8,508) rotate(-18)"><rect x="-4.6" y="-4" width="9.2" height="8" rx="2" fill="#fff" stroke="#000" stroke-width="1.6"/><rect x="3.2" y="-4" width="2" height="8" fill="#000"/></g>
<rect x="353.4" y="450.7" width="6.3" height="4.3" rx="1.8" fill="#fff" stroke="#000" stroke-width="2.2"/>
<rect x="353.4" y="449.6" width="6.1" height="2.8" rx="0.8" fill="#000"/>
<rect x="352.9" y="515.6" width="6.3" height="4.3" rx="1.8" fill="#fff" stroke="#000" stroke-width="2.2"/>
<rect x="352.9" y="518.2" width="6.1" height="2.8" rx="0.8" fill="#000"/>
<path d="M352,456 H360.5 Q372,484 360.5,512.4 H352 Q340.5,484 352,456 Z" fill="#fff" stroke="#000" stroke-width="1.5" />
<rect x="405.5" y="467.4" width="37.7" height="22.5" fill="#000" stroke="#000" stroke-width="0"/>
<line x1="406.5" y1="469.5" x2="423.15000000000003" y2="469.5" stroke="#fff" stroke-width="0.9"/>
<line x1="425.55" y1="469.5" x2="442.2" y2="469.5" stroke="#fff" stroke-width="0.9"/>
<line x1="406.5" y1="487.5" x2="423.15000000000003" y2="487.5" stroke="#fff" stroke-width="0.9"/>
<line x1="425.55" y1="487.5" x2="442.2" y2="487.5" stroke="#fff" stroke-width="0.9"/>
<path d="M412.3,475.2 L413.3,471.0 L414.9,473.5 L416.5,471.0 L417.5,475.2" stroke="#fff" stroke-width="1.3" fill="none"/>
<path d="M412.3,486.5 L413.3,482.3 L414.9,484.8 L416.5,482.3 L417.5,486.5" stroke="#fff" stroke-width="1.3" fill="none"/>
<path d="M431.2,475.2 L432.2,471.0 L433.8,473.5 L435.4,471.0 L436.4,475.2" stroke="#fff" stroke-width="1.3" fill="none"/>
<path d="M431.2,486.5 L432.2,482.3 L433.8,484.8 L435.4,482.3 L436.4,486.5" stroke="#fff" stroke-width="1.3" fill="none"/>
<line x1="424.5" y1="467.4" x2="424.5" y2="489.9" stroke="#888" stroke-width="0.6"/>
<rect x="411.6" y="458.4" width="8.8" height="6.8" rx="1.8" fill="#fff" stroke="#000" stroke-width="2.2"/>
<rect x="411.7" y="457.3" width="8.6" height="2.8" rx="0.8" fill="#000"/>
<rect x="411.6" y="492.1" width="8.8" height="6.8" rx="1.8" fill="#fff" stroke="#000" stroke-width="2.2"/>
<rect x="411.7" y="497.2" width="8.6" height="2.8" rx="0.8" fill="#000"/>
<rect x="429.6" y="458.4" width="8.8" height="6.8" rx="1.8" fill="#fff" stroke="#000" stroke-width="2.2"/>
<rect x="429.7" y="457.3" width="8.6" height="2.8" rx="0.8" fill="#000"/>
<rect x="429.6" y="492.1" width="8.8" height="6.8" rx="1.8" fill="#fff" stroke="#000" stroke-width="2.2"/>
<rect x="429.7" y="497.2" width="8.6" height="2.8" rx="0.8" fill="#000"/>
<rect x="402.3" y="519.7" width="26.5" height="12.8" fill="#fff" stroke="#000" stroke-width="1.4"/>
<g transform="translate(831.1,1052.2) scale(-1,-1)">
<ellipse cx="407.90000000000003" cy="524.3000000000001" rx="2.3" ry="1.7" fill="#000"/>
<rect x="402.6" y="527.3" width="6.4" height="5.2" fill="#000"/>
<path d="M416.6,527.9 q1.5,1.6 3,0.8 q1.2,-1.8 3.2,0.6 q-1.2,2.6 -3.4,1.8 q-2,-0.2 -2.8,-3.2 z" fill="#000"/>
</g>
<rect x="407.4" y="533.5" width="14.6" height="12.0" rx="2.6" fill="#000"/>
<rect x="409.5" y="535.5" width="10.4" height="1.9" fill="#fff"/>
<rect x="409.5" y="539.2" width="10.4" height="1.9" fill="#fff"/>
<rect x="409.5" y="542.4" width="10.4" height="1.9" fill="#fff"/>
<rect x="453.8" y="452.3" width="24.2" height="12.6" fill="#fff" stroke="#000" stroke-width="1.4"/>
<g transform="translate(0,917.2) scale(1,-1)">
<ellipse cx="459.40000000000003" cy="456.90000000000003" rx="2.3" ry="1.7" fill="#000"/>
<rect x="454.1" y="459.70000000000005" width="6.4" height="5.2" fill="#000"/>
<path d="M468.1,460.3 q1.5,1.6 3,0.8 q1.2,-1.8 3.2,0.6 q-1.2,2.6 -3.4,1.8 q-2,-0.2 -2.8,-3.2 z" fill="#000"/>
</g>
<rect x="458" y="465.8" width="14.5" height="11.5" rx="2.6" fill="#000"/>
<rect x="460.1" y="467.7" width="10.3" height="1.9" fill="#fff"/>
<rect x="460.1" y="471.2" width="10.3" height="1.9" fill="#fff"/>
<rect x="460.1" y="474.3" width="10.3" height="1.9" fill="#fff"/>
<rect x="453.8" y="484.9" width="24.2" height="12.6" fill="#fff" stroke="#000" stroke-width="1.4"/>
<g transform="translate(0,982.4) scale(1,-1)">
<ellipse cx="459.40000000000003" cy="489.5" rx="2.3" ry="1.7" fill="#000"/>
<rect x="454.1" y="492.3" width="6.4" height="5.2" fill="#000"/>
<path d="M468.1,492.9 q1.5,1.6 3,0.8 q1.2,-1.8 3.2,0.6 q-1.2,2.6 -3.4,1.8 q-2,-0.2 -2.8,-3.2 z" fill="#000"/>
</g>
<rect x="458" y="498.8" width="14.5" height="11.5" rx="2.6" fill="#000"/>
<rect x="460.1" y="500.7" width="10.3" height="1.9" fill="#fff"/>
<rect x="460.1" y="504.2" width="10.3" height="1.9" fill="#fff"/>
<rect x="460.1" y="507.3" width="10.3" height="1.9" fill="#fff"/>
<rect x="453.8" y="519.7" width="24.2" height="12.6" fill="#fff" stroke="#000" stroke-width="1.4"/>
<g transform="translate(0,1052.0) scale(1,-1)">
<ellipse cx="459.40000000000003" cy="524.3000000000001" rx="2.3" ry="1.7" fill="#000"/>
<rect x="454.1" y="527.1" width="6.4" height="5.2" fill="#000"/>
<path d="M468.1,527.7 q1.5,1.6 3,0.8 q1.2,-1.8 3.2,0.6 q-1.2,2.6 -3.4,1.8 q-2,-0.2 -2.8,-3.2 z" fill="#000"/>
</g>
<rect x="458" y="533" width="14.5" height="11.5" rx="2.6" fill="#000"/>
<rect x="460.1" y="534.9" width="10.3" height="1.9" fill="#fff"/>
<rect x="460.1" y="538.4" width="10.3" height="1.9" fill="#fff"/>
<rect x="460.1" y="541.5" width="10.3" height="1.9" fill="#fff"/>
<rect x="608.4" y="440.5" width="24.0" height="12.2" fill="#fff" stroke="#000" stroke-width="1.4"/>
<g transform="translate(0,893.2) scale(1,-1)">
<ellipse cx="614.0" cy="445.1" rx="2.3" ry="1.7" fill="#000"/>
<rect x="608.6999999999999" y="447.5" width="6.4" height="5.2" fill="#000"/>
<path d="M622.6999999999999,448.09999999999997 q1.5,1.6 3,0.8 q1.2,-1.8 3.2,0.6 q-1.2,2.6 -3.4,1.8 q-2,-0.2 -2.8,-3.2 z" fill="#000"/>
</g>
<rect x="614.5" y="454" width="14.5" height="11.5" rx="2.6" fill="#000"/>
<rect x="616.6" y="455.9" width="10.3" height="1.9" fill="#fff"/>
<rect x="616.6" y="459.4" width="10.3" height="1.9" fill="#fff"/>
<rect x="616.6" y="462.5" width="10.3" height="1.9" fill="#fff"/>
<rect x="608.4" y="470.8" width="24.0" height="12.2" fill="#fff" stroke="#000" stroke-width="1.4"/>
<g transform="translate(0,953.8) scale(1,-1)">
<ellipse cx="614.0" cy="475.40000000000003" rx="2.3" ry="1.7" fill="#000"/>
<rect x="608.6999999999999" y="477.8" width="6.4" height="5.2" fill="#000"/>
<path d="M622.6999999999999,478.4 q1.5,1.6 3,0.8 q1.2,-1.8 3.2,0.6 q-1.2,2.6 -3.4,1.8 q-2,-0.2 -2.8,-3.2 z" fill="#000"/>
</g>
<rect x="614.5" y="483" width="14.5" height="11.5" rx="2.6" fill="#000"/>
<rect x="616.6" y="484.9" width="10.3" height="1.9" fill="#fff"/>
<rect x="616.6" y="488.4" width="10.3" height="1.9" fill="#fff"/>
<rect x="616.6" y="491.5" width="10.3" height="1.9" fill="#fff"/>
<rect x="608.4" y="500" width="24.0" height="12.2" fill="#fff" stroke="#000" stroke-width="1.4"/>
<g transform="translate(0,1012.2) scale(1,-1)">
<ellipse cx="614.0" cy="504.6" rx="2.3" ry="1.7" fill="#000"/>
<rect x="608.6999999999999" y="507.00000000000006" width="6.4" height="5.2" fill="#000"/>
<path d="M622.6999999999999,507.6 q1.5,1.6 3,0.8 q1.2,-1.8 3.2,0.6 q-1.2,2.6 -3.4,1.8 q-2,-0.2 -2.8,-3.2 z" fill="#000"/>
</g>
<rect x="614.5" y="513.5" width="14.5" height="11.5" rx="2.6" fill="#000"/>
<rect x="616.6" y="515.4" width="10.3" height="1.9" fill="#fff"/>
<rect x="616.6" y="518.9" width="10.3" height="1.9" fill="#fff"/>
<rect x="616.6" y="522.0" width="10.3" height="1.9" fill="#fff"/>
<text x="330.5" y="85" textLength="48.5" lengthAdjust="spacingAndGlyphs" font-family="Liberation Serif, serif" font-weight="bold" font-style="italic" font-size="9.6" stroke="#000" stroke-width="0.7" stroke-linejoin="round">MEETING RM.</text>
<text x="327" y="136.3" textLength="55" lengthAdjust="spacingAndGlyphs" font-family="Liberation Serif, serif" font-weight="bold" font-style="italic" font-size="9.8" stroke="#000" stroke-width="0.7" stroke-linejoin="round">PRINTING RM.</text>
<text x="394" y="136" textLength="26" lengthAdjust="spacingAndGlyphs" font-family="Liberation Serif, serif" font-weight="bold" font-style="italic" font-size="9.6" stroke="#000" stroke-width="0.7" stroke-linejoin="round">OFFICE</text>
<text x="285.8" y="160.4" textLength="26.9" lengthAdjust="spacingAndGlyphs" font-family="Liberation Serif, serif" font-weight="bold" font-style="italic" font-size="9.6" stroke="#000" stroke-width="0.7" stroke-linejoin="round">OFFICE</text>
<text x="242.3" y="242.6" textLength="28.7" lengthAdjust="spacingAndGlyphs" font-family="Liberation Serif, serif" font-weight="bold" font-style="italic" font-size="9.2" stroke="#000" stroke-width="0.7" stroke-linejoin="round">KICHEN</text>
<text transform="translate(313.6,235.7) rotate(-90)" textLength="39.3" lengthAdjust="spacingAndGlyphs" font-family="Liberation Serif, serif" font-weight="bold" font-style="italic" font-size="9.6" stroke="#000" stroke-width="0.7" stroke-linejoin="round">GENTS TOI.</text>
<text transform="translate(355.5,249.4) rotate(-90)" textLength="47.1" lengthAdjust="spacingAndGlyphs" font-family="Liberation Serif, serif" font-weight="bold" font-style="italic" font-size="9.2" stroke="#000" stroke-width="0.7" stroke-linejoin="round">CORRIDOR 1</text>
<text transform="translate(282,313.7) rotate(-90)" textLength="47.2" lengthAdjust="spacingAndGlyphs" font-family="Liberation Serif, serif" font-weight="bold" font-style="italic" font-size="9.2" stroke="#000" stroke-width="0.7" stroke-linejoin="round">CORRIDOR 3</text>
<text x="210" y="290" textLength="27" lengthAdjust="spacingAndGlyphs" font-family="Liberation Serif, serif" font-weight="bold" font-style="italic" font-size="9.4" stroke="#000" stroke-width="0.7" stroke-linejoin="round">OFFICE</text>
<text x="292.3" y="312.8" textLength="62.9" lengthAdjust="spacingAndGlyphs" font-family="Liberation Serif, serif" font-weight="bold" font-style="italic" font-size="9.8" stroke="#000" stroke-width="0.7" stroke-linejoin="round">SEC/RECEPTION</text>
<text x="240" y="360.2" textLength="27" lengthAdjust="spacingAndGlyphs" font-family="Liberation Serif, serif" font-weight="bold" font-style="italic" font-size="9.4" stroke="#000" stroke-width="0.7" stroke-linejoin="round">OFFICE</text>
<text x="400" y="419.2" textLength="47" lengthAdjust="spacingAndGlyphs" font-family="Liberation Serif, serif" font-weight="bold" font-style="italic" font-size="9.4" stroke="#000" stroke-width="0.7" stroke-linejoin="round">CORRIDOR 2</text>
<text x="281.6" y="412.8" textLength="35.4" lengthAdjust="spacingAndGlyphs" font-family="Liberation Sans, sans-serif" font-size="8.6" stroke="#000" stroke-width="0.3">ROOMNO.</text>
<rect x="288.5" y="405" width="23.5" height="8.4" fill="none" stroke="#000" stroke-width="1.3"/>
<text x="288" y="423.3" textLength="26" lengthAdjust="spacingAndGlyphs" font-family="Liberation Sans, sans-serif" font-size="8.6" stroke="#000" stroke-width="0.3">C.E.O.</text>
<text x="250.2" y="456.8" textLength="20.8" lengthAdjust="spacingAndGlyphs" font-family="Liberation Serif, serif" font-weight="bold" font-style="italic" font-size="9.2" stroke="#000" stroke-width="0.7" stroke-linejoin="round">C.E.O.</text>
<text x="234.2" y="469.9" textLength="52.8" lengthAdjust="spacingAndGlyphs" font-family="Liberation Serif, serif" font-weight="bold" font-style="italic" font-size="9.8" stroke="#000" stroke-width="0.7" stroke-linejoin="round">(BY OTHERS)</text>
<text x="319" y="444.8" textLength="59" lengthAdjust="spacingAndGlyphs" font-family="Liberation Sans, sans-serif" font-size="8.8" stroke="#000" stroke-width="0.3">MEETING RM.</text>
<text x="351.5" y="454" textLength="41.5" lengthAdjust="spacingAndGlyphs" font-family="Liberation Sans, sans-serif" font-size="8.8" stroke="#000" stroke-width="0.3">ROOMNO.</text>
<rect x="360" y="446.4" width="24" height="8.0" fill="none" stroke="#000" stroke-width="1.3"/>
<text transform="translate(359.8,508) rotate(-90)" textLength="47.5" lengthAdjust="spacingAndGlyphs" font-family="Liberation Serif, serif" font-weight="bold" font-style="italic" font-size="9.2" stroke="#000" stroke-width="0.7" stroke-linejoin="round">12 PERSONS</text>
<text x="415.6" y="449.6" textLength="25.8" lengthAdjust="spacingAndGlyphs" font-family="Liberation Serif, serif" font-weight="bold" font-style="italic" font-size="9.2" stroke="#000" stroke-width="0.7" stroke-linejoin="round">OFFICE</text>
<text x="478" y="512.2" textLength="27" lengthAdjust="spacingAndGlyphs" font-family="Liberation Serif, serif" font-weight="bold" font-style="italic" font-size="9.4" stroke="#000" stroke-width="0.7" stroke-linejoin="round">OFFICE</text>
<text x="526.5" y="468.8" textLength="26.9" lengthAdjust="spacingAndGlyphs" font-family="Liberation Serif, serif" font-weight="bold" font-style="italic" font-size="9.4" stroke="#000" stroke-width="0.7" stroke-linejoin="round">OFFICE</text>
<text x="578" y="449.8" textLength="26.4" lengthAdjust="spacingAndGlyphs" font-family="Liberation Serif, serif" font-weight="bold" font-style="italic" font-size="9.4" stroke="#000" stroke-width="0.7" stroke-linejoin="round">OFFICE</text>
<text x="624" y="549.8" textLength="16" lengthAdjust="spacingAndGlyphs" font-family="Liberation Serif, serif" font-weight="bold" font-style="italic" font-size="9.2" stroke="#000" stroke-width="0.7" stroke-linejoin="round">BAL.</text>
<line x1="624" y1="551.5" x2="640" y2="551.5" stroke="#000" stroke-width="0.8"/>
<circle cx="397.5" cy="158" r="6.4" fill="#fff" stroke="#000" stroke-width="0.9"/>
<text x="397.5" y="161.8" text-anchor="middle" font-family="Liberation Serif, serif" font-style="italic" font-weight="bold" font-size="11.5" stroke="#000" stroke-width="0.2">1</text>
<circle cx="351.8" cy="122.6" r="6.4" fill="#fff" stroke="#000" stroke-width="0.9"/>
<text x="351.8" y="126.39999999999999" text-anchor="middle" font-family="Liberation Serif, serif" font-style="italic" font-weight="bold" font-size="11.5" stroke="#000" stroke-width="0.2">2</text>
<circle cx="375" cy="103.7" r="6.4" fill="#fff" stroke="#000" stroke-width="0.9"/>
<text x="375" y="107.5" text-anchor="middle" font-family="Liberation Serif, serif" font-style="italic" font-weight="bold" font-size="11.5" stroke="#000" stroke-width="0.2">3</text>
<circle cx="308.2" cy="171" r="6.4" fill="#fff" stroke="#000" stroke-width="0.9"/>
<text x="308.2" y="174.8" text-anchor="middle" font-family="Liberation Serif, serif" font-style="italic" font-weight="bold" font-size="11.5" stroke="#000" stroke-width="0.2">4</text>
<circle cx="266.5" cy="251" r="6.4" fill="#fff" stroke="#000" stroke-width="0.9"/>
<text x="266.5" y="254.8" text-anchor="middle" font-family="Liberation Serif, serif" font-style="italic" font-weight="bold" font-size="11.5" stroke="#000" stroke-width="0.2">5</text>
<circle cx="244.7" cy="309.8" r="6.4" fill="#fff" stroke="#000" stroke-width="0.9"/>
<text x="244.7" y="313.6" text-anchor="middle" font-family="Liberation Serif, serif" font-style="italic" font-weight="bold" font-size="11.5" stroke="#000" stroke-width="0.2">6</text>
<circle cx="281.1" cy="343.3" r="6.4" fill="#fff" stroke="#000" stroke-width="0.9"/>
<text x="281.1" y="347.1" text-anchor="middle" font-family="Liberation Serif, serif" font-style="italic" font-weight="bold" font-size="11.5" stroke="#000" stroke-width="0.2">7</text>
<circle cx="399.4" cy="451" r="6.4" fill="#fff" stroke="#000" stroke-width="0.9"/>
<text x="399.4" y="454.8" text-anchor="middle" font-family="Liberation Serif, serif" font-style="italic" font-weight="bold" font-size="10" stroke="#000" stroke-width="0.2">10</text>
<circle cx="486.7" cy="451" r="6.4" fill="#fff" stroke="#000" stroke-width="0.9"/>
<text x="486.7" y="454.8" text-anchor="middle" font-family="Liberation Serif, serif" font-style="italic" font-weight="bold" font-size="10" stroke="#000" stroke-width="0.2">11</text>
<circle cx="521.7" cy="450.7" r="6.4" fill="#fff" stroke="#000" stroke-width="0.9"/>
<text x="521.7" y="454.5" text-anchor="middle" font-family="Liberation Serif, serif" font-style="italic" font-weight="bold" font-size="10" stroke="#000" stroke-width="0.2">12</text>
<circle cx="585.7" cy="427.7" r="6.4" fill="#fff" stroke="#000" stroke-width="0.9"/>
<text x="585.7" y="431.5" text-anchor="middle" font-family="Liberation Serif, serif" font-style="italic" font-weight="bold" font-size="10" stroke="#000" stroke-width="0.2">13</text>
</svg></body></html>
